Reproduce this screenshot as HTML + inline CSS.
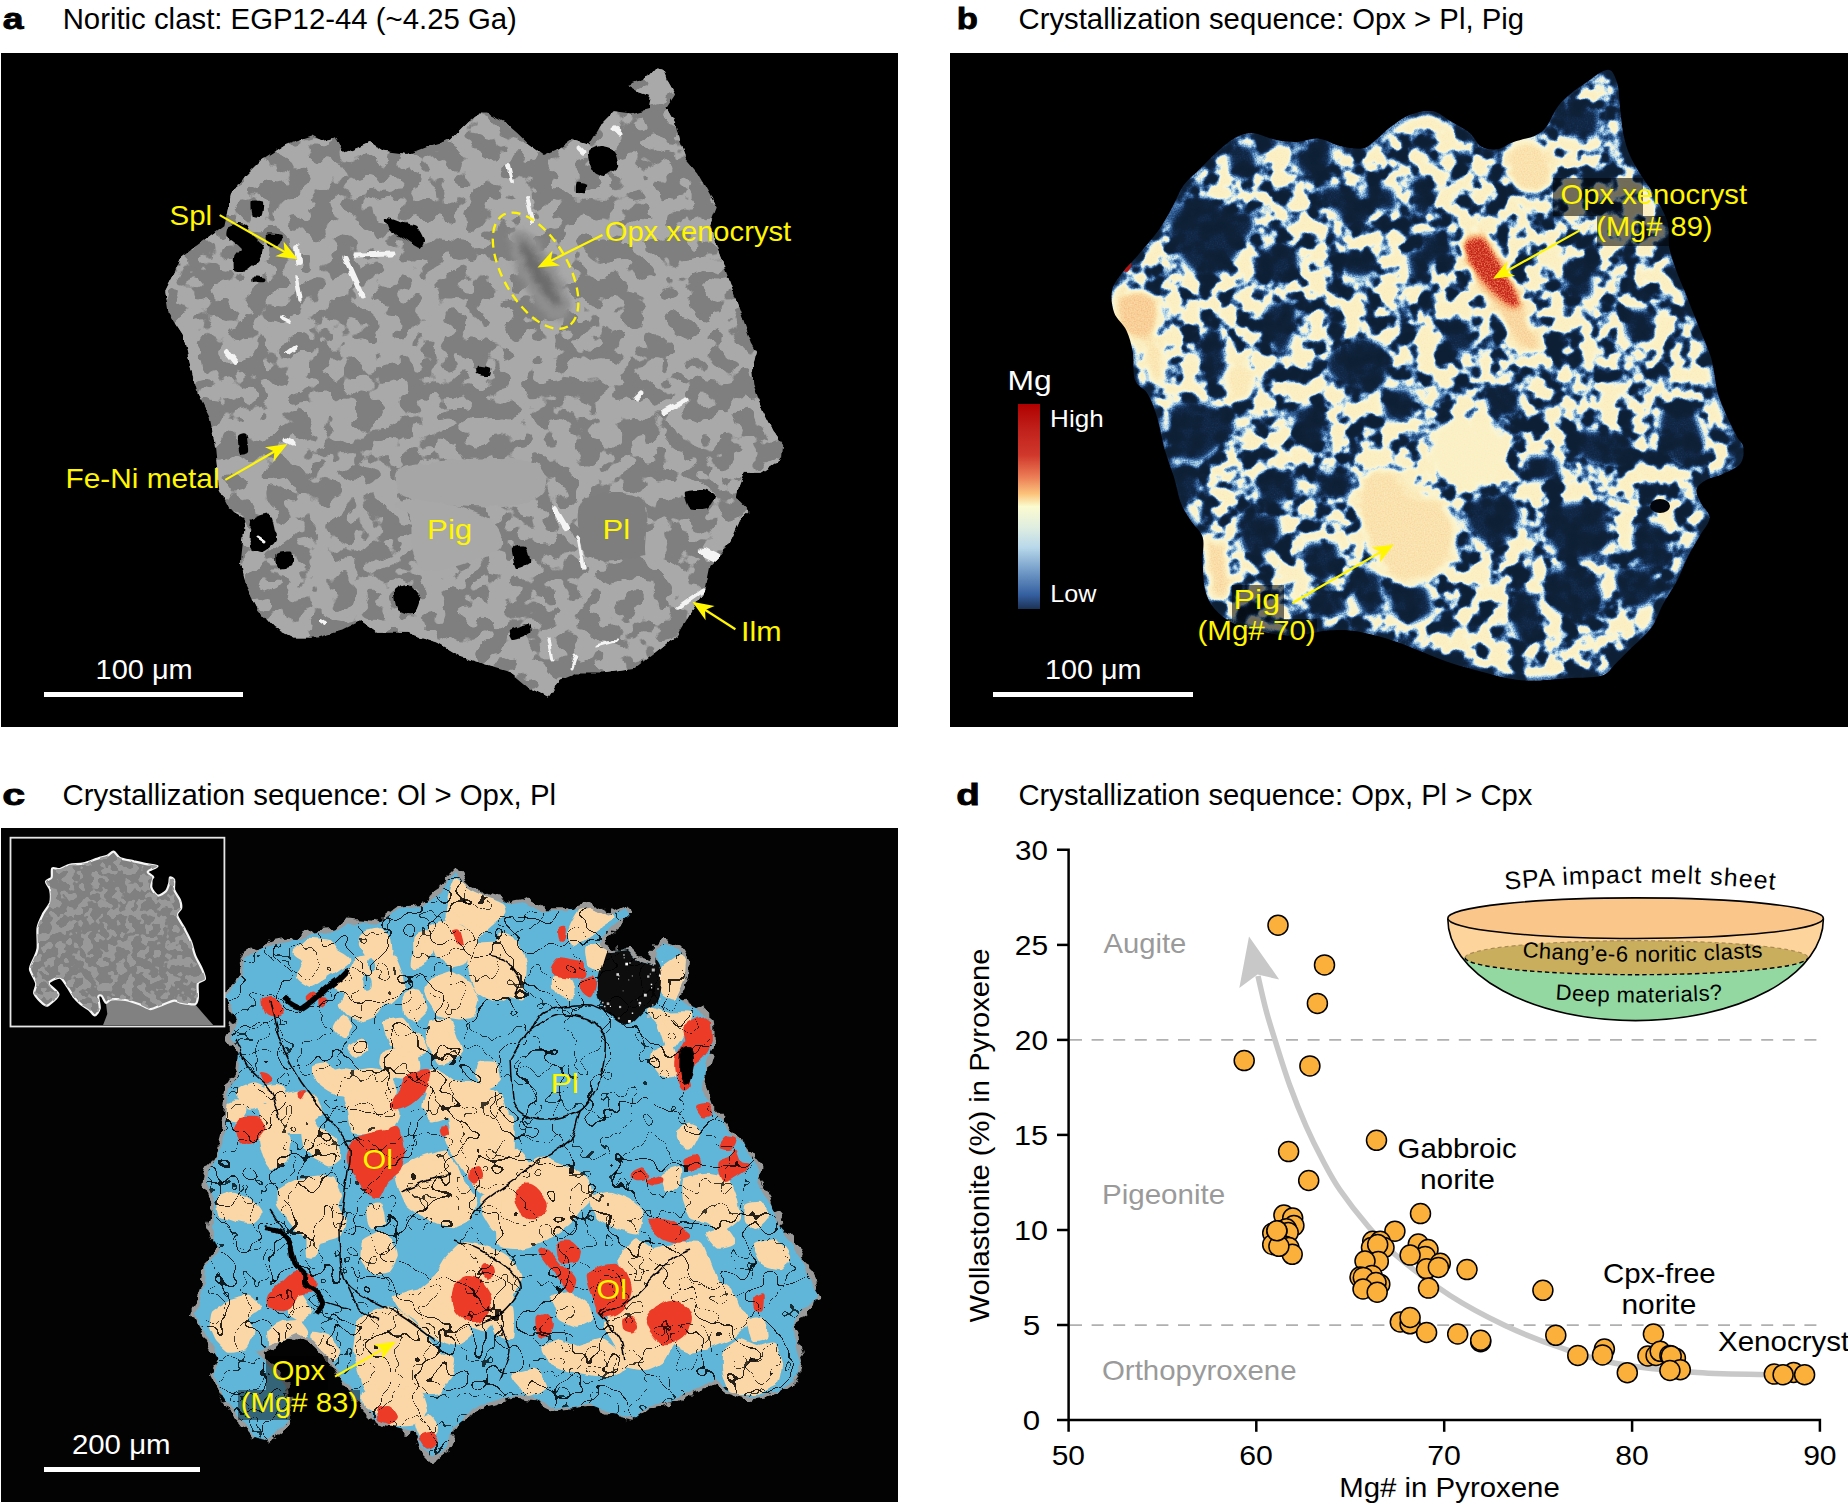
<!DOCTYPE html><html><head><meta charset="utf-8"><title>Figure</title><style>html,body{margin:0;padding:0;background:#fff;overflow:hidden}svg{display:block}text{font-family:"Liberation Sans",sans-serif}</style></head><body>
<svg width="1848" height="1507" viewBox="0 0 1848 1507">
<defs>
<filter id="fA" x="0" y="0" width="100%" height="100%" color-interpolation-filters="sRGB">
 <feTurbulence type="fractalNoise" baseFrequency="0.045 0.05" numOctaves="2" seed="7" result="n"/>
 <feColorMatrix in="n" type="matrix" values="0 0 0 0 0.663  0 0 0 0 0.663  0 0 0 0 0.663  40 0 0 0 -19.2"/>
</filter>
<filter id="fIns" x="0" y="0" width="100%" height="100%" color-interpolation-filters="sRGB">
 <feTurbulence type="fractalNoise" baseFrequency="0.12" numOctaves="2" seed="11" result="n"/>
 <feColorMatrix in="n" type="matrix" values="0 0 0 0 0.6  0 0 0 0 0.6  0 0 0 0 0.6  30 0 0 0 -15.5"/>
</filter>
<filter id="fBnoise" x="0" y="0" width="100%" height="100%" color-interpolation-filters="sRGB">
 <feTurbulence type="fractalNoise" baseFrequency="0.055 0.06" numOctaves="4" seed="4" result="n"/>
 <feColorMatrix in="n" type="matrix" values="3.4 0 0 0 -1.0  3.4 0 0 0 -1.0  3.4 0 0 0 -1.0  0 0 0 0 1" result="c"/>
 <feColorMatrix in="c" type="matrix" values="0.7 0 0 0 0  0.7 0 0 0 0  0.7 0 0 0 0  0 0 0 0 1" result="d"/>
 <feGaussianBlur in="d" stdDeviation="1.3"/>
</filter>
<filter id="fBmap" x="0" y="0" width="100%" height="100%" color-interpolation-filters="sRGB">
 <feTurbulence type="fractalNoise" baseFrequency="0.7" numOctaves="1" seed="8" result="g"/>
 <feColorMatrix in="g" type="matrix" values="1 0 0 0 0  1 0 0 0 0  1 0 0 0 0  0 0 0 0 1" result="g1"/>
 <feComposite in="SourceGraphic" in2="g1" operator="arithmetic" k1="0" k2="1" k3="0.14" k4="-0.07" result="h"/>
 <feComponentTransfer in="h">
  <feFuncR type="table" tableValues="0.05 0.05 0.055 0.055 0.06 0.07 0.10 0.16 0.27 0.48 0.72 0.92 0.985 0.985 0.985 0.985 0.98 0.975 0.965 0.93 0.78"/>
  <feFuncG type="table" tableValues="0.125 0.125 0.13 0.13 0.14 0.16 0.22 0.32 0.46 0.66 0.85 0.95 0.96 0.95 0.94 0.915 0.87 0.80 0.70 0.50 0.15"/>
  <feFuncB type="table" tableValues="0.21 0.21 0.215 0.22 0.24 0.28 0.38 0.52 0.68 0.82 0.92 0.90 0.82 0.79 0.77 0.72 0.66 0.58 0.48 0.34 0.10"/>
  <feFuncA type="linear" slope="0" intercept="1"/>
 </feComponentTransfer>
</filter>
<filter id="fCrack" x="0" y="0" width="100%" height="100%" color-interpolation-filters="sRGB">
 <feTurbulence type="fractalNoise" baseFrequency="0.018" numOctaves="3" seed="21" result="n"/>
 <feComponentTransfer in="n">
  <feFuncR type="linear" slope="0" intercept="0"/><feFuncG type="linear" slope="0" intercept="0"/><feFuncB type="linear" slope="0" intercept="0"/>
  <feFuncA type="discrete" tableValues="0 0 0 0 0 0 0 0 0 0 0 0 0 0 0 0 0 0 0 0 0 0 0 0 0 0 0 0 0 0 0 0 0 0 0 0 0 0 0 0 0 0 0 0 1 0 0 0 0 0 0 0 0 0 0 0 0 0 0 0 0 0 0 0 0 0 0 0 0 0 0 0 0 0 0 0 0 0 0 0 0 0 0 0 0 0 0 0 0 0"/>
 </feComponentTransfer>
</filter>
<filter id="fCrack2" x="0" y="0" width="100%" height="100%" color-interpolation-filters="sRGB">
 <feTurbulence type="fractalNoise" baseFrequency="0.028" numOctaves="3" seed="33" result="n"/>
 <feComponentTransfer in="n">
  <feFuncR type="linear" slope="0" intercept="0"/><feFuncG type="linear" slope="0" intercept="0"/><feFuncB type="linear" slope="0" intercept="0"/>
  <feFuncA type="discrete" tableValues="0 0 0 0 0 0 0 0 0 0 0 0 0 0 0 0 0 0 0 0 0 0 0 0 0 0 0 0 0 0 0 0 0 0 0 0 1 0 0 0 0 0 0 0 0 0 0 0 0 0 0 0 0 0 0 0 0 0 0 0 0 0 0 0 0 0 0 0 0 0 0 0 0 0 0 0 0 0 0 0"/>
 </feComponentTransfer>
</filter>
<filter id="blur3" x="-20%" y="-20%" width="140%" height="140%"><feGaussianBlur stdDeviation="3"/></filter>
<filter id="blur4" x="-5%" y="-5%" width="110%" height="110%"><feGaussianBlur stdDeviation="3.5"/></filter>
<filter id="rough4" x="-2%" y="-2%" width="104%" height="104%">
 <feTurbulence type="fractalNoise" baseFrequency="0.06" numOctaves="2" seed="2" result="t"/>
 <feDisplacementMap in="SourceGraphic" in2="t" scale="7" xChannelSelector="R" yChannelSelector="G"/>
</filter>
<filter id="roughA" x="-2%" y="-2%" width="104%" height="104%">
 <feTurbulence type="fractalNoise" baseFrequency="0.09" numOctaves="2" seed="5" result="t"/>
 <feDisplacementMap in="SourceGraphic" in2="t" scale="6" xChannelSelector="R" yChannelSelector="G"/>
</filter>
<filter id="rough8" x="-2%" y="-2%" width="104%" height="104%">
 <feTurbulence type="fractalNoise" baseFrequency="0.09" numOctaves="2" seed="9" result="t"/>
 <feDisplacementMap in="SourceGraphic" in2="t" scale="14" xChannelSelector="R" yChannelSelector="G"/>
</filter>
<linearGradient id="gBar" x1="0" y1="0" x2="0" y2="1">
 <stop offset="0" stop-color="#b00000"/><stop offset="0.12" stop-color="#c0201a"/><stop offset="0.25" stop-color="#d0382c"/>
 <stop offset="0.36" stop-color="#ec8058"/><stop offset="0.44" stop-color="#fcc47c"/><stop offset="0.5" stop-color="#fbfbcf"/>
 <stop offset="0.6" stop-color="#e0eee0"/><stop offset="0.7" stop-color="#b8d8ea"/><stop offset="0.82" stop-color="#7099c6"/>
 <stop offset="0.93" stop-color="#3560a0"/><stop offset="1" stop-color="#1c3256"/>
</linearGradient>
</defs>
<rect width="1848" height="1507" fill="#fff"/>
<text x="2.88" y="29.0" font-size="29.00" fill="#000" font-weight="bold" textLength="20.79" lengthAdjust="spacingAndGlyphs" stroke="#000" stroke-width="0.8">a</text>
<text x="62.65" y="29.0" font-size="28.70" fill="#000" font-weight="normal" textLength="454.22" lengthAdjust="spacingAndGlyphs" >Noritic clast: EGP12-44 (~4.25 Ga)</text>
<text x="956.75" y="29.0" font-size="29.00" fill="#000" font-weight="bold" textLength="21.17" lengthAdjust="spacingAndGlyphs" stroke="#000" stroke-width="0.8">b</text>
<text x="1018.54" y="29.0" font-size="28.70" fill="#000" font-weight="normal" textLength="505.47" lengthAdjust="spacingAndGlyphs" >Crystallization sequence: Opx &gt; Pl, Pig</text>
<text x="2.35" y="805.0" font-size="29.00" fill="#000" font-weight="bold" textLength="22.93" lengthAdjust="spacingAndGlyphs" stroke="#000" stroke-width="0.8">c</text>
<text x="62.53" y="805.0" font-size="28.70" fill="#000" font-weight="normal" textLength="493.47" lengthAdjust="spacingAndGlyphs" >Crystallization sequence: Ol &gt; Opx, Pl</text>
<text x="956.26" y="805.0" font-size="29.00" fill="#000" font-weight="bold" textLength="23.59" lengthAdjust="spacingAndGlyphs" stroke="#000" stroke-width="0.8">d</text>
<text x="1018.54" y="805.0" font-size="28.70" fill="#000" font-weight="normal" textLength="513.80" lengthAdjust="spacingAndGlyphs" >Crystallization sequence: Opx, Pl &gt; Cpx</text>
<g id="pa"><rect x="1" y="53" width="897" height="674" fill="#000"/>
<clipPath id="clipA"><polygon points="193.8,380.0 182.8,334.6 168.6,312.7 165.3,290.8 174.1,273.3 180.6,258.0 200.4,242.7 224.4,225.2 231.0,194.5 246.3,174.8 261.7,159.5 285.7,144.1 312.0,135.4 323.0,140.9 336.0,137.6 342.7,152.9 368.9,142.0 382.0,150.7 408.3,154.0 428.0,146.3 450.0,139.8 469.7,120.0 478.4,113.5 487.0,113.5 504.7,122.2 517.5,133.2 528.5,144.1 543.8,155.1 559.0,148.5 572.2,138.7 589.8,144.1 602.9,122.2 613.8,111.3 631.4,113.5 648.9,109.1 651.0,96.0 638.0,91.6 627.0,85.0 648.9,76.3 655.4,68.6 663.0,69.7 666.4,78.5 675.0,93.8 666.4,107.0 675.0,122.2 679.5,142.0 686.0,159.5 697.0,172.6 705.8,187.9 716.7,207.6 710.0,225.0 716.7,247.0 729.9,282.0 740.8,312.7 751.8,343.4 757.0,352.0 752.0,370.0 753.3,384.3 762.8,410.6 772.4,429.7 783.2,444.0 782.0,458.4 760.5,472.7 743.7,472.7 738.9,484.7 736.6,499.0 748.5,511.0 738.9,520.5 731.8,537.3 722.2,554.0 710.3,566.0 705.5,589.8 691.2,611.3 676.8,635.2 652.9,654.3 633.8,668.7 602.7,673.5 576.5,673.5 559.7,680.6 547.8,697.4 528.7,688.0 508.4,671.0 484.5,663.9 460.6,656.7 436.7,642.4 408.0,632.8 377.0,632.8 360.3,620.9 341.2,630.5 317.3,637.6 293.4,637.6 274.3,628.1 257.5,608.9 245.6,585.0 240.8,561.2 245.6,518.1 228.9,508.6 219.3,489.5 216.9,465.6 214.5,441.7 209.7,417.8 197.8,393.9"/></clipPath>
<g filter="url(#roughA)"><g clip-path="url(#clipA)">
<rect x="150" y="60" width="660" height="650" fill="#7f7f7f"/>
<rect x="150" y="60" width="660" height="650" fill="#a9a9a9" filter="url(#fA)"/>
<path d="M396.0 504.0 C398.8 500.8 415.0 498.2 427.0 499.0 C439.0 499.8 456.8 505.0 468.0 509.0 C479.2 513.0 488.5 516.7 494.0 523.0 C499.5 529.3 504.6 540.7 501.0 547.0 C497.4 553.3 481.3 557.5 472.6 561.0 C463.9 564.5 456.7 566.4 448.7 568.0 C440.7 569.6 430.8 573.4 424.8 570.7 C418.8 568.0 415.3 560.4 412.8 551.6 C410.3 542.8 412.8 525.9 410.0 518.0 C407.2 510.1 393.2 507.2 396.0 504.0Z" fill="#a8a8a8"/>
<path d="M398.0 470.0 C404.7 464.7 423.0 464.0 440.0 462.0 C457.0 460.0 483.3 457.3 500.0 458.0 C516.7 458.7 532.7 460.7 540.0 466.0 C547.3 471.3 547.3 483.7 544.0 490.0 C540.7 496.3 532.3 501.3 520.0 504.0 C507.7 506.7 486.7 506.7 470.0 506.0 C453.3 505.3 431.7 502.0 420.0 500.0 C408.3 498.0 403.7 499.0 400.0 494.0 C396.3 489.0 391.3 475.3 398.0 470.0Z" fill="#a6a6a6"/>
<path d="M583.0 500.0 C592.7 492.2 629.7 490.0 640.0 498.0 C650.3 506.0 645.0 538.3 645.0 548.0 C645.0 557.7 647.5 554.0 640.0 556.0 C632.5 558.0 609.7 561.8 600.0 560.0 C590.3 558.2 584.8 555.0 582.0 545.0 C579.2 535.0 573.3 507.8 583.0 500.0Z" fill="#7e7e7e"/>
<g filter="url(#blur3)"><path d="M512.0 232.0 C515.0 227.7 524.7 230.0 532.0 236.0 C539.3 242.0 549.7 257.3 556.0 268.0 C562.3 278.7 568.3 291.7 570.0 300.0 C571.7 308.3 569.7 315.3 566.0 318.0 C562.3 320.7 554.3 320.3 548.0 316.0 C541.7 311.7 533.7 301.0 528.0 292.0 C522.3 283.0 516.7 272.0 514.0 262.0 C511.3 252.0 509.0 236.3 512.0 232.0Z" fill="#8f8f8f"/><path d="M520.0 240.0 C520.7 236.7 525.3 240.0 530.0 246.0 C534.7 252.0 543.0 267.0 548.0 276.0 C553.0 285.0 558.7 295.0 560.0 300.0 C561.3 305.0 559.3 307.7 556.0 306.0 C552.7 304.3 545.0 296.7 540.0 290.0 C535.0 283.3 529.3 274.3 526.0 266.0 C522.7 257.7 519.3 243.3 520.0 240.0Z" fill="#6c6c6c"/></g>
<path d="M251.8 201.1 C252.8 199.8 261.8 200.7 262.8 202.2 C263.8 203.7 262.7 215.1 261.7 216.4 C260.7 217.7 253.9 216.8 252.9 215.3 C251.9 213.8 250.8 202.4 251.8 201.1Z" fill="#050505"/>
<path d="M237.6 223.0 C239.3 223.0 244.8 223.9 246.3 225.2 C247.8 226.5 251.2 233.9 252.9 236.1 C254.7 238.3 263.1 244.6 263.8 247.0 C264.5 249.4 261.2 257.8 259.5 260.2 C257.8 262.6 248.8 270.0 246.3 271.1 C243.8 272.2 235.5 272.6 234.3 271.1 C233.1 269.6 233.8 258.2 234.3 255.8 C234.9 253.4 240.6 249.0 239.8 247.0 C239.0 245.0 227.7 238.3 226.6 236.1 C225.5 233.9 227.7 226.5 228.8 225.2 C229.9 223.9 235.8 223.0 237.6 223.0Z" fill="#050505"/>
<path d="M266.0 233.9 C267.4 232.7 281.2 233.9 282.5 235.0 C283.8 236.1 280.6 243.7 279.2 244.9 C277.8 246.1 269.5 248.1 268.2 247.0 C266.9 245.9 264.6 235.1 266.0 233.9Z" fill="#050505"/>
<path d="M252.9 276.6 C254.0 276.2 262.8 277.1 263.8 277.7 C264.9 278.2 264.4 281.7 263.4 282.1 C262.3 282.5 254.4 282.2 253.3 281.6 C252.2 281.1 251.8 277.0 252.9 276.6Z" fill="#050505"/>
<path d="M386.0 218.0 C387.0 217.2 397.0 221.2 400.0 222.0 C403.0 222.8 413.6 224.2 416.0 226.0 C418.4 227.8 423.6 237.8 424.0 240.0 C424.4 242.2 422.0 248.2 420.0 248.0 C418.0 247.8 407.0 239.8 404.0 238.0 C401.0 236.2 391.8 232.0 390.0 230.0 C388.2 228.0 385.0 218.8 386.0 218.0Z" fill="#050505"/>
<path d="M588.0 152.0 C588.8 149.6 597.4 146.2 600.0 146.0 C602.6 145.8 612.2 148.0 614.0 150.0 C615.8 152.0 619.0 163.4 618.0 166.0 C617.0 168.6 606.6 175.6 604.0 176.0 C601.4 176.4 593.6 172.4 592.0 170.0 C590.4 167.6 587.2 154.4 588.0 152.0Z" fill="#050505"/>
<path d="M577.0 182.0 C578.0 181.2 585.3 182.8 586.0 184.0 C586.7 185.2 585.0 193.2 584.0 194.0 C583.0 194.8 576.7 193.2 576.0 192.0 C575.3 190.8 576.0 182.8 577.0 182.0Z" fill="#050505"/>
<path d="M252.0 520.0 C254.0 516.8 267.6 512.0 270.0 514.0 C272.4 516.0 276.8 536.2 276.0 540.0 C275.2 543.8 264.6 551.4 262.0 552.0 C259.4 552.6 251.0 549.2 250.0 546.0 C249.0 542.8 250.0 523.2 252.0 520.0Z" fill="#050505"/>
<path d="M277.0 554.0 C278.4 552.4 290.5 550.8 292.0 552.0 C293.5 553.2 293.4 564.4 292.0 566.0 C290.6 567.6 279.5 569.2 278.0 568.0 C276.5 566.8 275.6 555.6 277.0 554.0Z" fill="#050505"/>
<path d="M394.0 590.0 C395.0 587.4 405.4 583.2 408.0 584.0 C410.6 584.8 419.4 595.0 420.0 598.0 C420.6 601.0 416.2 612.8 414.0 614.0 C411.8 615.2 400.0 612.4 398.0 610.0 C396.0 607.6 393.0 592.6 394.0 590.0Z" fill="#050505"/>
<path d="M512.0 548.0 C513.0 545.8 524.2 544.6 526.0 546.0 C527.8 547.4 531.0 559.8 530.0 562.0 C529.0 564.2 517.8 569.4 516.0 568.0 C514.2 566.6 511.0 550.2 512.0 548.0Z" fill="#050505"/>
<path d="M685.0 492.0 C686.4 490.2 700.9 489.6 704.0 490.0 C707.1 490.4 715.6 494.2 716.0 496.0 C716.4 497.8 710.6 506.8 708.0 508.0 C705.4 509.2 692.3 509.6 690.0 508.0 C687.7 506.4 683.6 493.8 685.0 492.0Z" fill="#050505"/>
<path d="M238.0 436.0 C238.6 434.0 245.0 432.4 246.0 434.0 C247.0 435.6 248.6 450.0 248.0 452.0 C247.4 454.0 241.0 455.6 240.0 454.0 C239.0 452.4 237.4 438.0 238.0 436.0Z" fill="#050505"/>
<path d="M478.0 366.0 C479.2 365.4 489.0 367.0 490.0 368.0 C491.0 369.0 489.2 375.4 488.0 376.0 C486.8 376.6 479.0 375.0 478.0 374.0 C477.0 373.0 476.8 366.6 478.0 366.0Z" fill="#050505"/>
<path d="M510.0 630.0 C511.4 628.4 526.0 623.6 528.0 624.0 C530.0 624.4 531.4 632.4 530.0 634.0 C528.6 635.6 516.0 640.4 514.0 640.0 C512.0 639.6 508.6 631.6 510.0 630.0Z" fill="#050505"/>
<line x1="345.0" y1="258.0" x2="362.0" y2="296.0" stroke="#f4f4f4" stroke-width="5.0" stroke-linecap="round"/>
<line x1="356.0" y1="255.0" x2="392.0" y2="254.0" stroke="#f4f4f4" stroke-width="5.0" stroke-linecap="round"/>
<line x1="297.0" y1="246.0" x2="299.0" y2="262.0" stroke="#f4f4f4" stroke-width="6.0" stroke-linecap="round"/>
<line x1="296.0" y1="276.0" x2="300.0" y2="300.0" stroke="#f4f4f4" stroke-width="3.5" stroke-linecap="round"/>
<line x1="282.0" y1="318.0" x2="290.0" y2="322.0" stroke="#f4f4f4" stroke-width="4.0" stroke-linecap="round"/>
<line x1="228.0" y1="352.0" x2="236.0" y2="362.0" stroke="#f4f4f4" stroke-width="6.0" stroke-linecap="round"/>
<line x1="288.0" y1="352.0" x2="296.0" y2="346.0" stroke="#f4f4f4" stroke-width="4.0" stroke-linecap="round"/>
<line x1="508.0" y1="165.0" x2="512.0" y2="182.0" stroke="#f4f4f4" stroke-width="4.0" stroke-linecap="round"/>
<line x1="526.0" y1="196.0" x2="532.0" y2="222.0" stroke="#f4f4f4" stroke-width="4.0" stroke-linecap="round"/>
<line x1="664.0" y1="412.0" x2="686.0" y2="400.0" stroke="#f4f4f4" stroke-width="5.0" stroke-linecap="round"/>
<line x1="636.0" y1="398.0" x2="642.0" y2="392.0" stroke="#f4f4f4" stroke-width="5.0" stroke-linecap="round"/>
<line x1="554.0" y1="508.0" x2="566.0" y2="528.0" stroke="#f4f4f4" stroke-width="6.0" stroke-linecap="round"/>
<line x1="578.0" y1="536.0" x2="584.0" y2="568.0" stroke="#f4f4f4" stroke-width="3.5" stroke-linecap="round"/>
<line x1="704.0" y1="552.0" x2="716.0" y2="558.0" stroke="#f4f4f4" stroke-width="8.0" stroke-linecap="round"/>
<line x1="678.0" y1="608.0" x2="704.0" y2="590.0" stroke="#f4f4f4" stroke-width="3.5" stroke-linecap="round"/>
<line x1="596.0" y1="646.0" x2="618.0" y2="640.0" stroke="#f4f4f4" stroke-width="3.0" stroke-linecap="round"/>
<line x1="548.0" y1="640.0" x2="552.0" y2="660.0" stroke="#f4f4f4" stroke-width="3.0" stroke-linecap="round"/>
<line x1="572.0" y1="668.0" x2="576.0" y2="656.0" stroke="#f4f4f4" stroke-width="3.0" stroke-linecap="round"/>
<line x1="286.0" y1="440.0" x2="292.0" y2="443.0" stroke="#f4f4f4" stroke-width="5.0" stroke-linecap="round"/>
<line x1="202.0" y1="432.0" x2="204.0" y2="438.0" stroke="#f4f4f4" stroke-width="6.0" stroke-linecap="round"/>
<line x1="614.0" y1="128.0" x2="620.0" y2="134.0" stroke="#f4f4f4" stroke-width="5.0" stroke-linecap="round"/>
<line x1="579.0" y1="148.0" x2="583.0" y2="152.0" stroke="#f4f4f4" stroke-width="5.0" stroke-linecap="round"/>
<line x1="258.0" y1="538.0" x2="264.0" y2="542.0" stroke="#f4f4f4" stroke-width="3.0" stroke-linecap="round"/>
<line x1="320.0" y1="620.0" x2="326.0" y2="624.0" stroke="#f4f4f4" stroke-width="4.0" stroke-linecap="round"/>
<line x1="360.0" y1="632.0" x2="366.0" y2="636.0" stroke="#f4f4f4" stroke-width="3.0" stroke-linecap="round"/>
</g></g>
<ellipse cx="535.6" cy="270.7" rx="64.5" ry="32.5" transform="rotate(60 535.6 270.7)" fill="none" stroke="#fff600" stroke-width="2.3" stroke-dasharray="9 6"/>
<text x="169.47" y="224.6" font-size="28.00" fill="#fff600" font-weight="normal" textLength="42.66" lengthAdjust="spacingAndGlyphs" >Spl</text>
<line x1="219.7" y1="215.1" x2="285.5" y2="252.4" stroke="#fff600" stroke-width="2.2"/><polygon points="297.7,259.3 275.3,256.3 284.6,251.9 283.6,241.6" fill="#fff600"/>
<text x="604.69" y="241.0" font-size="28.00" fill="#fff600" font-weight="normal" textLength="186.49" lengthAdjust="spacingAndGlyphs" >Opx xenocryst</text>
<line x1="602.5" y1="235.0" x2="550.0" y2="261.2" stroke="#fff600" stroke-width="2.2"/><polygon points="537.5,267.5 552.5,250.6 550.9,260.8 560.0,265.6" fill="#fff600"/>
<text x="65.62" y="487.5" font-size="28.00" fill="#fff600" font-weight="normal" textLength="153.90" lengthAdjust="spacingAndGlyphs" >Fe-Ni metal</text>
<line x1="225.3" y1="479.9" x2="275.3" y2="451.0" stroke="#fff600" stroke-width="2.2"/><polygon points="287.4,444.0 273.4,461.8 274.4,451.5 265.0,447.2" fill="#fff600"/>
<text x="427.10" y="538.5" font-size="28.00" fill="#fff600" font-weight="normal" textLength="45.14" lengthAdjust="spacingAndGlyphs" >Pig</text>
<text x="602.51" y="538.5" font-size="28.00" fill="#fff600" font-weight="normal" textLength="27.64" lengthAdjust="spacingAndGlyphs" >Pl</text>
<text x="740.96" y="641.2" font-size="28.00" fill="#fff600" font-weight="normal" textLength="40.56" lengthAdjust="spacingAndGlyphs" >Ilm</text>
<line x1="735.4" y1="629.3" x2="704.2" y2="609.3" stroke="#fff600" stroke-width="2.2"/><polygon points="692.4,601.8 714.6,606.0 705.0,609.9 705.6,620.2" fill="#fff600"/>
<rect x="44" y="692" width="199" height="5" fill="#fff"/>
<text x="95.53" y="678.7" font-size="27.50" fill="#fff" font-weight="normal" textLength="97.23" lengthAdjust="spacingAndGlyphs" >100 μm</text></g>
<g id="pb"><rect x="950" y="53" width="898" height="674" fill="#000"/>
<clipPath id="clipB"><path d="M1135.0 380.0 C1132.5 373.0 1134.2 360.4 1132.8 352.1 C1131.3 343.8 1129.4 336.8 1126.3 330.2 C1123.2 323.6 1116.6 319.3 1114.2 312.7 C1111.8 306.1 1110.7 297.4 1112.0 290.8 C1113.3 284.2 1117.3 279.5 1121.9 273.3 C1126.5 267.1 1133.2 260.9 1139.4 253.6 C1145.6 246.3 1153.6 237.2 1159.1 229.5 C1164.6 221.8 1168.2 214.9 1172.2 207.6 C1176.2 200.3 1178.5 192.3 1183.2 185.7 C1188.0 179.1 1195.2 173.7 1200.7 168.2 C1206.2 162.7 1210.2 158.0 1216.0 152.9 C1221.8 147.8 1229.5 140.9 1235.7 137.6 C1241.9 134.3 1246.7 132.8 1253.3 133.2 C1259.9 133.6 1267.9 138.3 1275.2 139.8 C1282.5 141.3 1289.7 142.2 1297.0 142.0 C1304.3 141.8 1311.6 138.0 1318.9 138.7 C1326.2 139.4 1333.5 144.7 1340.8 146.3 C1348.1 147.9 1356.8 149.6 1362.7 148.5 C1368.6 147.4 1371.2 143.5 1375.9 139.8 C1380.7 136.2 1385.4 130.8 1391.2 126.6 C1397.0 122.4 1404.0 117.1 1410.9 114.6 C1417.8 112.0 1426.2 110.2 1432.8 111.3 C1439.4 112.4 1444.1 117.3 1450.3 121.0 C1456.5 124.7 1464.8 129.0 1469.9 133.2 C1475.0 137.4 1476.4 143.6 1480.8 146.3 C1485.2 149.0 1490.7 150.3 1496.2 149.6 C1501.7 148.9 1507.1 144.4 1513.7 142.0 C1520.3 139.6 1530.1 138.0 1535.6 135.4 C1541.1 132.8 1542.8 131.3 1546.5 126.6 C1550.2 121.8 1553.5 112.4 1557.5 106.9 C1561.5 101.4 1565.9 97.8 1570.6 93.8 C1575.3 89.8 1580.8 86.4 1585.9 82.8 C1591.0 79.2 1597.1 73.9 1601.3 71.9 C1605.5 69.9 1608.4 68.6 1611.1 70.8 C1613.8 73.0 1616.2 79.0 1617.7 85.0 C1619.2 91.0 1619.0 98.9 1619.9 106.9 C1620.8 114.9 1621.6 125.2 1623.2 133.2 C1624.8 141.2 1626.8 148.2 1629.7 155.1 C1632.6 162.0 1636.7 168.2 1640.7 174.8 C1644.7 181.4 1649.4 186.8 1653.8 194.5 C1658.2 202.2 1664.4 212.1 1666.9 220.8 C1669.5 229.6 1667.6 239.0 1669.1 247.0 C1670.6 255.0 1673.1 261.6 1675.7 268.9 C1678.3 276.2 1681.6 283.5 1684.5 290.8 C1687.4 298.1 1690.3 305.4 1693.2 312.7 C1696.1 320.0 1699.1 327.3 1702.0 334.6 C1704.9 341.9 1708.7 350.3 1710.7 356.5 C1712.7 362.7 1712.8 365.8 1714.0 372.0 C1715.2 378.2 1715.7 386.3 1718.0 393.9 C1720.3 401.5 1724.4 410.6 1727.6 417.8 C1730.8 425.0 1734.5 432.1 1737.1 436.9 C1739.7 441.7 1742.5 442.1 1743.1 446.5 C1743.7 450.9 1744.1 458.6 1740.7 463.2 C1737.3 467.8 1728.6 471.1 1722.8 473.9 C1717.0 476.7 1710.5 477.3 1706.1 479.9 C1701.7 482.5 1697.3 485.5 1696.5 489.5 C1695.7 493.5 1699.1 499.0 1701.3 503.8 C1703.5 508.6 1710.0 512.5 1709.6 518.1 C1709.2 523.7 1702.7 530.5 1698.9 537.3 C1695.1 544.1 1690.5 551.6 1686.9 558.8 C1683.3 566.0 1681.4 572.7 1677.4 580.3 C1673.4 587.9 1667.4 596.2 1663.0 604.2 C1658.6 612.2 1656.7 620.4 1651.1 628.0 C1645.5 635.6 1635.6 643.6 1629.6 649.6 C1623.6 655.6 1620.1 659.5 1615.3 663.9 C1610.5 668.3 1608.9 673.4 1600.9 675.8 C1592.9 678.2 1579.0 677.4 1567.5 678.2 C1556.0 679.0 1541.6 680.6 1531.6 680.6 C1521.6 680.6 1516.5 679.8 1507.7 678.2 C1498.9 676.6 1489.2 673.8 1479.0 671.0 C1468.8 668.2 1455.9 664.7 1446.5 661.5 C1437.1 658.3 1430.6 655.2 1422.6 652.0 C1414.6 648.8 1406.7 645.2 1398.7 642.4 C1390.7 639.6 1382.8 637.2 1374.8 635.2 C1366.8 633.2 1358.9 631.3 1350.9 630.5 C1342.9 629.7 1333.4 630.1 1327.0 630.5 C1320.6 630.9 1319.5 632.0 1312.7 632.8 C1305.9 633.6 1295.2 635.5 1286.4 635.2 C1277.6 634.9 1268.8 633.0 1260.0 631.0 C1251.2 629.0 1241.3 627.0 1233.8 623.3 C1226.2 619.6 1219.5 614.5 1214.7 608.9 C1209.9 603.3 1207.1 597.8 1205.1 589.8 C1203.1 581.8 1203.1 570.0 1202.7 561.2 C1202.3 552.5 1204.7 544.1 1202.7 537.3 C1200.7 530.5 1194.4 526.1 1190.8 520.5 C1187.2 514.9 1184.0 511.0 1181.2 503.8 C1178.4 496.6 1176.9 486.6 1174.1 477.5 C1171.3 468.4 1167.3 458.8 1164.5 448.9 C1161.7 438.9 1160.1 427.0 1157.3 417.8 C1154.5 408.6 1151.5 400.2 1147.8 393.9 C1144.1 387.6 1137.5 387.0 1135.0 380.0Z"/></clipPath>
<g clip-path="url(#clipB)">
<g filter="url(#fBmap)">
<rect x="1100" y="60" width="660" height="640" fill="#808080" filter="url(#fBnoise)"/>
<g filter="url(#blur4)">
<path d="M1135.0 380.0 C1132.5 373.0 1134.2 360.4 1132.8 352.1 C1131.3 343.8 1129.4 336.8 1126.3 330.2 C1123.2 323.6 1116.6 319.3 1114.2 312.7 C1111.8 306.1 1110.7 297.4 1112.0 290.8 C1113.3 284.2 1117.3 279.5 1121.9 273.3 C1126.5 267.1 1133.2 260.9 1139.4 253.6 C1145.6 246.3 1153.6 237.2 1159.1 229.5 C1164.6 221.8 1168.2 214.9 1172.2 207.6 C1176.2 200.3 1178.5 192.3 1183.2 185.7 C1188.0 179.1 1195.2 173.7 1200.7 168.2 C1206.2 162.7 1210.2 158.0 1216.0 152.9 C1221.8 147.8 1229.5 140.9 1235.7 137.6 C1241.9 134.3 1246.7 132.8 1253.3 133.2 C1259.9 133.6 1267.9 138.3 1275.2 139.8 C1282.5 141.3 1289.7 142.2 1297.0 142.0 C1304.3 141.8 1311.6 138.0 1318.9 138.7 C1326.2 139.4 1333.5 144.7 1340.8 146.3 C1348.1 147.9 1356.8 149.6 1362.7 148.5 C1368.6 147.4 1371.2 143.5 1375.9 139.8 C1380.7 136.2 1385.4 130.8 1391.2 126.6 C1397.0 122.4 1404.0 117.1 1410.9 114.6 C1417.8 112.0 1426.2 110.2 1432.8 111.3 C1439.4 112.4 1444.1 117.3 1450.3 121.0 C1456.5 124.7 1464.8 129.0 1469.9 133.2 C1475.0 137.4 1476.4 143.6 1480.8 146.3 C1485.2 149.0 1490.7 150.3 1496.2 149.6 C1501.7 148.9 1507.1 144.4 1513.7 142.0 C1520.3 139.6 1530.1 138.0 1535.6 135.4 C1541.1 132.8 1542.8 131.3 1546.5 126.6 C1550.2 121.8 1553.5 112.4 1557.5 106.9 C1561.5 101.4 1565.9 97.8 1570.6 93.8 C1575.3 89.8 1580.8 86.4 1585.9 82.8 C1591.0 79.2 1597.1 73.9 1601.3 71.9 C1605.5 69.9 1608.4 68.6 1611.1 70.8 C1613.8 73.0 1616.2 79.0 1617.7 85.0 C1619.2 91.0 1619.0 98.9 1619.9 106.9 C1620.8 114.9 1621.6 125.2 1623.2 133.2 C1624.8 141.2 1626.8 148.2 1629.7 155.1 C1632.6 162.0 1636.7 168.2 1640.7 174.8 C1644.7 181.4 1649.4 186.8 1653.8 194.5 C1658.2 202.2 1664.4 212.1 1666.9 220.8 C1669.5 229.6 1667.6 239.0 1669.1 247.0 C1670.6 255.0 1673.1 261.6 1675.7 268.9 C1678.3 276.2 1681.6 283.5 1684.5 290.8 C1687.4 298.1 1690.3 305.4 1693.2 312.7 C1696.1 320.0 1699.1 327.3 1702.0 334.6 C1704.9 341.9 1708.7 350.3 1710.7 356.5 C1712.7 362.7 1712.8 365.8 1714.0 372.0 C1715.2 378.2 1715.7 386.3 1718.0 393.9 C1720.3 401.5 1724.4 410.6 1727.6 417.8 C1730.8 425.0 1734.5 432.1 1737.1 436.9 C1739.7 441.7 1742.5 442.1 1743.1 446.5 C1743.7 450.9 1744.1 458.6 1740.7 463.2 C1737.3 467.8 1728.6 471.1 1722.8 473.9 C1717.0 476.7 1710.5 477.3 1706.1 479.9 C1701.7 482.5 1697.3 485.5 1696.5 489.5 C1695.7 493.5 1699.1 499.0 1701.3 503.8 C1703.5 508.6 1710.0 512.5 1709.6 518.1 C1709.2 523.7 1702.7 530.5 1698.9 537.3 C1695.1 544.1 1690.5 551.6 1686.9 558.8 C1683.3 566.0 1681.4 572.7 1677.4 580.3 C1673.4 587.9 1667.4 596.2 1663.0 604.2 C1658.6 612.2 1656.7 620.4 1651.1 628.0 C1645.5 635.6 1635.6 643.6 1629.6 649.6 C1623.6 655.6 1620.1 659.5 1615.3 663.9 C1610.5 668.3 1608.9 673.4 1600.9 675.8 C1592.9 678.2 1579.0 677.4 1567.5 678.2 C1556.0 679.0 1541.6 680.6 1531.6 680.6 C1521.6 680.6 1516.5 679.8 1507.7 678.2 C1498.9 676.6 1489.2 673.8 1479.0 671.0 C1468.8 668.2 1455.9 664.7 1446.5 661.5 C1437.1 658.3 1430.6 655.2 1422.6 652.0 C1414.6 648.8 1406.7 645.2 1398.7 642.4 C1390.7 639.6 1382.8 637.2 1374.8 635.2 C1366.8 633.2 1358.9 631.3 1350.9 630.5 C1342.9 629.7 1333.4 630.1 1327.0 630.5 C1320.6 630.9 1319.5 632.0 1312.7 632.8 C1305.9 633.6 1295.2 635.5 1286.4 635.2 C1277.6 634.9 1268.8 633.0 1260.0 631.0 C1251.2 629.0 1241.3 627.0 1233.8 623.3 C1226.2 619.6 1219.5 614.5 1214.7 608.9 C1209.9 603.3 1207.1 597.8 1205.1 589.8 C1203.1 581.8 1203.1 570.0 1202.7 561.2 C1202.3 552.5 1204.7 544.1 1202.7 537.3 C1200.7 530.5 1194.4 526.1 1190.8 520.5 C1187.2 514.9 1184.0 511.0 1181.2 503.8 C1178.4 496.6 1176.9 486.6 1174.1 477.5 C1171.3 468.4 1167.3 458.8 1164.5 448.9 C1161.7 438.9 1160.1 427.0 1157.3 417.8 C1154.5 408.6 1151.5 400.2 1147.8 393.9 C1144.1 387.6 1137.5 387.0 1135.0 380.0Z" fill="none" stroke="#0d0d0d" stroke-width="5" opacity="0.85"/>
<path d="M1170.4 221.0 C1171.3 218.0 1183.8 199.3 1186.5 197.7 C1189.2 196.1 1209.0 196.9 1211.6 197.7 C1214.2 198.5 1223.3 209.2 1225.9 210.2 C1228.5 211.3 1249.1 212.6 1251.0 213.8 C1252.9 215.0 1255.1 226.2 1254.6 228.2 C1254.1 230.1 1245.0 240.6 1243.8 242.5 C1242.6 244.4 1238.3 254.7 1236.7 256.8 C1235.0 259.0 1221.4 273.5 1218.7 274.7 C1216.1 275.9 1199.6 275.7 1197.2 274.7 C1194.9 273.8 1184.6 262.5 1182.9 260.4 C1181.2 258.2 1173.0 245.1 1172.2 242.5 C1171.3 239.9 1169.4 224.0 1170.4 221.0Z" fill="#0d0d0d" opacity="0.72"/>
<path d="M1261.1 252.3 C1262.6 250.6 1276.6 241.8 1279.0 241.5 C1281.4 241.3 1295.6 247.0 1296.9 248.7 C1298.2 250.4 1299.4 264.7 1298.7 266.6 C1298.0 268.5 1288.4 276.7 1286.1 277.4 C1283.9 278.1 1266.7 278.1 1264.6 277.4 C1262.6 276.7 1255.9 268.3 1255.7 266.6 C1255.4 265.0 1259.5 254.0 1261.1 252.3Z" fill="#0d0d0d" opacity="0.72"/>
<path d="M1307.7 147.2 C1309.7 146.2 1325.7 142.8 1327.4 143.7 C1329.1 144.5 1333.4 157.5 1332.8 159.8 C1332.2 162.0 1320.6 176.7 1318.5 177.7 C1316.3 178.6 1302.0 175.3 1300.5 174.1 C1299.1 172.9 1296.5 161.6 1297.0 159.8 C1297.4 158.0 1305.7 148.3 1307.7 147.2Z" fill="#0d0d0d" opacity="0.72"/>
<path d="M1321.5 186.1 C1323.7 185.0 1350.6 186.2 1353.8 187.9 C1356.9 189.5 1367.4 208.2 1368.1 211.2 C1368.8 214.1 1365.9 231.7 1364.5 232.6 C1363.1 233.6 1348.5 226.9 1346.6 225.5 C1344.7 224.1 1337.5 212.6 1335.8 211.2 C1334.2 209.7 1322.5 205.7 1321.5 204.0 C1320.6 202.3 1319.4 187.1 1321.5 186.1Z" fill="#0d0d0d" opacity="0.72"/>
<path d="M1270.3 303.5 C1272.5 302.3 1293.6 300.7 1295.3 301.7 C1297.1 302.8 1297.5 316.8 1297.1 319.7 C1296.8 322.5 1291.2 342.4 1290.0 344.7 C1288.8 347.1 1280.8 356.0 1279.2 355.5 C1277.7 355.0 1267.9 340.0 1266.7 337.6 C1265.5 335.2 1261.1 321.9 1261.3 319.7 C1261.6 317.4 1268.0 304.7 1270.3 303.5Z" fill="#0d0d0d" opacity="0.72"/>
<path d="M1329.9 352.3 C1332.1 350.1 1355.0 338.4 1358.6 337.9 C1362.2 337.5 1381.8 342.5 1383.7 345.1 C1385.6 347.7 1388.0 374.2 1387.2 377.4 C1386.5 380.5 1376.0 391.2 1372.9 391.7 C1369.8 392.2 1343.8 386.0 1340.7 384.5 C1337.6 383.1 1327.1 372.3 1326.3 370.2 C1325.6 368.0 1327.8 354.4 1329.9 352.3Z" fill="#0d0d0d" opacity="0.72"/>
<path d="M1204.4 333.3 C1205.6 331.9 1217.3 328.1 1218.7 329.8 C1220.1 331.4 1225.9 354.8 1225.9 358.4 C1225.9 362.0 1220.1 382.3 1218.7 383.5 C1217.3 384.7 1205.6 378.5 1204.4 376.3 C1203.2 374.2 1200.8 354.1 1200.8 351.3 C1200.8 348.4 1203.2 334.8 1204.4 333.3Z" fill="#0d0d0d" opacity="0.72"/>
<path d="M1407.8 252.7 C1409.0 250.8 1427.5 247.2 1428.9 249.1 C1430.4 251.0 1430.1 279.4 1428.9 281.3 C1427.8 283.2 1412.8 279.7 1411.4 277.7 C1410.0 275.8 1406.6 254.6 1407.8 252.7Z" fill="#0d0d0d" opacity="0.72"/>
<path d="M1364.5 185.1 C1366.2 184.4 1391.0 187.0 1393.1 188.7 C1395.3 190.4 1397.7 208.8 1396.7 210.2 C1395.7 211.6 1380.8 210.9 1378.8 210.2 C1376.8 209.5 1367.2 201.1 1366.2 199.4 C1365.3 197.8 1362.7 185.8 1364.5 185.1Z" fill="#0d0d0d" opacity="0.72"/>
<path d="M1228.9 147.5 C1230.3 145.6 1248.5 144.5 1250.4 145.7 C1252.3 146.9 1257.8 163.0 1257.6 165.4 C1257.4 167.8 1248.6 180.9 1246.9 181.5 C1245.1 182.1 1231.9 176.6 1230.7 174.4 C1229.5 172.1 1227.6 149.4 1228.9 147.5Z" fill="#0d0d0d" opacity="0.72"/>
<path d="M1340.8 256.3 C1342.1 254.9 1361.7 251.9 1364.1 252.7 C1366.4 253.6 1376.6 267.2 1376.6 268.9 C1376.6 270.5 1366.2 277.5 1364.1 277.8 C1361.9 278.2 1345.9 275.7 1344.3 274.2 C1342.8 272.8 1339.5 257.8 1340.8 256.3Z" fill="#0d0d0d" opacity="0.72"/>
<path d="M1411.6 181.3 C1412.5 178.7 1428.0 175.8 1429.1 177.7 C1430.3 179.6 1430.1 207.3 1429.1 210.0 C1428.2 212.6 1416.3 219.0 1415.2 217.1 C1414.0 215.2 1410.7 183.9 1411.6 181.3Z" fill="#0d0d0d" opacity="0.72"/>
<path d="M1421.6 233.1 C1423.1 231.3 1446.1 233.2 1448.0 235.1 C1449.9 237.0 1451.5 259.7 1450.1 261.5 C1448.6 263.3 1427.6 263.4 1425.7 261.5 C1423.8 259.6 1420.1 234.8 1421.6 233.1Z" fill="#0d0d0d" opacity="0.72"/>
<path d="M1557.7 106.8 C1560.1 105.0 1595.7 106.8 1598.3 108.8 C1600.8 110.9 1598.7 135.5 1596.2 137.3 C1593.8 139.0 1564.3 137.3 1561.7 135.2 C1559.1 133.2 1555.2 108.6 1557.7 106.8Z" fill="#0d0d0d" opacity="0.72"/>
<path d="M1565.8 260.5 C1567.3 258.4 1588.4 260.1 1590.2 262.6 C1592.0 265.0 1593.7 294.9 1592.2 297.1 C1590.7 299.3 1569.6 297.5 1567.9 295.1 C1566.1 292.6 1564.3 262.7 1565.8 260.5Z" fill="#0d0d0d" opacity="0.72"/>
<path d="M1444.1 321.1 C1445.8 319.4 1468.6 321.1 1470.5 323.1 C1472.4 325.2 1474.2 349.8 1472.6 351.6 C1470.9 353.3 1448.1 351.6 1446.2 349.5 C1444.3 347.5 1442.5 322.9 1444.1 321.1Z" fill="#0d0d0d" opacity="0.72"/>
<path d="M1624.6 309.8 C1626.4 308.1 1651.3 309.8 1653.0 311.9 C1654.8 313.9 1652.8 338.5 1651.0 340.3 C1649.2 342.0 1628.4 340.3 1626.6 338.3 C1624.9 336.2 1622.8 311.6 1624.6 309.8Z" fill="#0d0d0d" opacity="0.72"/>
<path d="M1171.4 404.3 C1173.4 402.1 1196.2 401.8 1200.1 402.4 C1203.9 402.9 1226.3 410.0 1228.7 411.9 C1231.1 413.8 1237.1 428.6 1236.4 431.0 C1235.6 433.4 1219.7 446.2 1217.3 448.2 C1214.8 450.3 1202.9 461.0 1200.1 461.6 C1197.2 462.2 1177.2 459.6 1175.2 457.8 C1173.2 456.0 1169.7 438.4 1169.5 434.8 C1169.2 431.3 1169.3 406.4 1171.4 404.3Z" fill="#0d0d0d" opacity="0.72"/>
<path d="M1171.9 466.9 C1173.3 464.3 1197.0 464.8 1198.7 466.9 C1200.4 468.9 1198.2 494.9 1196.8 497.4 C1195.4 500.0 1179.3 507.1 1177.7 505.1 C1176.0 503.0 1170.5 469.4 1171.9 466.9Z" fill="#0d0d0d" opacity="0.72"/>
<path d="M1259.4 472.9 C1261.4 471.1 1287.4 469.9 1289.9 471.0 C1292.5 472.2 1298.4 487.8 1297.6 490.1 C1296.8 492.4 1281.0 504.9 1278.5 505.4 C1275.9 505.9 1260.6 499.9 1259.4 497.8 C1258.1 495.6 1257.3 474.7 1259.4 472.9Z" fill="#0d0d0d" opacity="0.72"/>
<path d="M1238.5 514.0 C1240.8 511.7 1273.9 512.2 1276.7 514.0 C1279.5 515.8 1281.8 537.8 1280.5 540.8 C1279.2 543.7 1260.1 557.4 1257.6 558.0 C1255.0 558.5 1243.6 551.3 1242.3 548.4 C1241.0 545.5 1236.2 516.3 1238.5 514.0Z" fill="#0d0d0d" opacity="0.72"/>
<path d="M1305.9 543.4 C1308.0 541.6 1334.2 541.6 1336.5 543.4 C1338.8 545.2 1341.3 567.6 1340.3 570.2 C1339.3 572.7 1323.5 581.7 1321.2 581.7 C1318.9 581.7 1306.9 572.7 1305.9 570.2 C1304.9 567.6 1303.9 545.2 1305.9 543.4Z" fill="#0d0d0d" opacity="0.72"/>
<path d="M1354.3 569.3 C1356.1 568.1 1377.3 570.6 1379.2 573.2 C1381.1 575.7 1384.0 604.8 1383.0 607.6 C1382.0 610.4 1365.9 616.2 1363.9 615.2 C1361.9 614.2 1353.1 595.3 1352.4 592.3 C1351.8 589.2 1352.6 570.6 1354.3 569.3Z" fill="#0d0d0d" opacity="0.72"/>
<path d="M1391.2 589.8 C1393.5 588.0 1422.8 584.5 1425.6 586.0 C1428.4 587.5 1434.3 610.2 1433.2 612.7 C1432.2 615.3 1413.1 624.2 1410.3 624.2 C1407.5 624.2 1392.5 615.0 1391.2 612.7 C1389.9 610.5 1388.9 591.6 1391.2 589.8Z" fill="#0d0d0d" opacity="0.72"/>
<path d="M1293.2 409.5 C1294.5 406.9 1317.9 405.4 1320.0 407.6 C1322.0 409.7 1325.1 439.4 1323.8 442.0 C1322.5 444.5 1302.9 447.9 1300.8 445.8 C1298.8 443.6 1291.9 412.0 1293.2 409.5Z" fill="#0d0d0d" opacity="0.72"/>
<path d="M1382.3 390.1 C1384.0 388.0 1409.0 388.3 1411.0 390.1 C1413.0 391.9 1414.6 414.8 1412.9 416.8 C1411.3 418.9 1388.2 422.5 1386.2 420.7 C1384.1 418.9 1380.7 392.1 1382.3 390.1Z" fill="#0d0d0d" opacity="0.72"/>
<path d="M1314.9 474.6 C1316.6 472.9 1346.7 471.4 1349.3 472.6 C1351.8 473.9 1354.9 492.0 1353.1 493.7 C1351.3 495.3 1325.1 498.8 1322.5 497.5 C1320.0 496.2 1313.1 476.2 1314.9 474.6Z" fill="#0d0d0d" opacity="0.72"/>
<path d="M1437.2 517.5 C1438.2 515.0 1457.5 507.6 1459.0 509.9 C1460.4 512.2 1460.0 549.4 1459.0 551.9 C1457.9 554.5 1444.4 550.4 1442.9 548.1 C1441.4 545.8 1436.1 520.1 1437.2 517.5Z" fill="#0d0d0d" opacity="0.72"/>
<path d="M1308.5 593.5 C1310.1 592.0 1338.4 592.3 1341.0 593.5 C1343.7 594.8 1350.2 611.1 1348.7 612.6 C1347.1 614.2 1320.8 617.7 1318.1 616.5 C1315.4 615.2 1307.0 595.1 1308.5 593.5Z" fill="#0d0d0d" opacity="0.72"/>
<path d="M1545.3 509.8 C1547.3 507.5 1571.8 502.1 1575.9 502.1 C1580.0 502.1 1604.3 507.0 1606.5 509.8 C1608.6 512.6 1609.6 540.9 1608.4 544.2 C1607.1 547.5 1590.5 558.7 1587.3 559.5 C1584.2 560.2 1563.4 557.2 1560.6 555.7 C1557.8 554.1 1546.3 539.6 1545.3 536.5 C1544.3 533.5 1543.3 512.1 1545.3 509.8Z" fill="#0d0d0d" opacity="0.72"/>
<path d="M1470.2 501.0 C1473.0 498.9 1504.9 492.3 1508.4 493.3 C1511.8 494.3 1521.8 513.2 1521.8 516.3 C1521.8 519.3 1510.9 537.4 1508.4 539.2 C1505.8 541.0 1486.3 544.0 1483.5 543.0 C1480.7 542.0 1467.2 526.7 1466.3 523.9 C1465.4 521.1 1467.4 503.0 1470.2 501.0Z" fill="#0d0d0d" opacity="0.72"/>
<path d="M1552.7 569.6 C1555.5 568.6 1583.8 568.1 1587.1 569.6 C1590.4 571.2 1601.7 589.5 1602.4 592.6 C1603.2 595.6 1600.4 613.6 1598.6 615.5 C1596.8 617.4 1578.7 621.7 1575.7 621.2 C1572.6 620.7 1554.8 610.3 1552.7 607.9 C1550.7 605.4 1545.1 587.5 1545.1 584.9 C1545.1 582.4 1549.9 570.7 1552.7 569.6Z" fill="#0d0d0d" opacity="0.72"/>
<path d="M1616.5 569.0 C1618.6 566.7 1648.1 567.5 1650.9 569.0 C1653.7 570.5 1659.1 589.4 1658.6 591.9 C1658.1 594.5 1645.8 606.5 1643.3 607.2 C1640.7 608.0 1622.1 606.0 1620.3 603.4 C1618.6 600.9 1614.5 571.3 1616.5 569.0Z" fill="#0d0d0d" opacity="0.72"/>
<path d="M1513.4 594.8 C1515.2 593.3 1534.5 592.3 1536.3 594.8 C1538.1 597.4 1541.2 629.7 1540.1 633.0 C1539.1 636.4 1523.1 645.5 1521.0 644.5 C1519.0 643.5 1510.1 621.1 1509.6 617.8 C1509.1 614.4 1511.6 596.4 1513.4 594.8Z" fill="#0d0d0d" opacity="0.72"/>
<path d="M1578.7 430.9 C1581.8 429.8 1617.0 431.4 1620.8 432.8 C1624.6 434.2 1635.8 449.6 1636.1 451.9 C1636.3 454.2 1627.7 466.4 1624.6 467.2 C1621.6 467.9 1593.5 464.6 1590.2 463.4 C1586.9 462.1 1575.7 450.2 1574.9 448.1 C1574.2 445.9 1575.7 431.9 1578.7 430.9Z" fill="#0d0d0d" opacity="0.72"/>
<path d="M1662.8 408.7 C1665.1 407.4 1690.6 410.2 1693.4 412.5 C1696.2 414.8 1704.9 439.2 1704.9 443.1 C1704.9 446.9 1695.7 468.8 1693.4 469.8 C1691.1 470.8 1672.8 460.9 1670.5 458.4 C1668.2 455.8 1659.5 434.9 1659.0 431.6 C1658.5 428.3 1660.5 409.9 1662.8 408.7Z" fill="#0d0d0d" opacity="0.72"/>
<path d="M1484.5 387.9 C1486.0 385.9 1512.8 386.2 1515.1 387.9 C1517.4 389.5 1520.4 410.8 1518.9 412.7 C1517.4 414.6 1494.4 418.2 1492.1 416.5 C1489.8 414.9 1483.0 389.8 1484.5 387.9Z" fill="#0d0d0d" opacity="0.72"/>
<path d="M1636.9 522.6 C1638.9 521.3 1661.4 523.9 1663.7 526.4 C1666.0 529.0 1672.3 558.0 1671.3 560.8 C1670.3 563.6 1650.9 569.5 1648.4 568.5 C1645.8 567.5 1633.8 548.6 1633.1 545.6 C1632.3 542.5 1634.9 523.9 1636.9 522.6Z" fill="#0d0d0d" opacity="0.72"/>
<path d="M1526.8 455.7 C1528.6 454.2 1555.2 456.1 1557.4 457.6 C1559.5 459.1 1561.1 477.1 1559.3 478.6 C1557.5 480.2 1532.8 482.1 1530.6 480.6 C1528.5 479.0 1525.0 457.2 1526.8 455.7Z" fill="#0d0d0d" opacity="0.72"/>
<path d="M1436.0 428.0 C1442.0 420.0 1459.3 419.3 1470.0 420.0 C1480.7 420.7 1494.3 425.0 1500.0 432.0 C1505.7 439.0 1505.7 453.3 1504.0 462.0 C1502.3 470.7 1498.0 480.0 1490.0 484.0 C1482.0 488.0 1465.3 488.7 1456.0 486.0 C1446.7 483.3 1437.3 477.7 1434.0 468.0 C1430.7 458.3 1430.0 436.0 1436.0 428.0Z" fill="#adadad"/>
<path d="M1362.0 480.0 C1367.7 473.7 1384.0 466.0 1392.0 468.0 C1400.0 470.0 1402.0 486.7 1410.0 492.0 C1418.0 497.3 1432.3 493.7 1440.0 500.0 C1447.7 506.3 1455.0 519.0 1456.0 530.0 C1457.0 541.0 1453.3 557.3 1446.0 566.0 C1438.7 574.7 1422.3 581.3 1412.0 582.0 C1401.7 582.7 1391.7 577.0 1384.0 570.0 C1376.3 563.0 1370.3 550.7 1366.0 540.0 C1361.7 529.3 1358.7 516.0 1358.0 506.0 C1357.3 496.0 1356.3 486.3 1362.0 480.0Z" fill="#c7c7c7"/>
<path d="M1512.0 146.0 C1517.3 141.3 1533.3 138.3 1540.0 142.0 C1546.7 145.7 1551.0 160.0 1552.0 168.0 C1553.0 176.0 1551.3 186.0 1546.0 190.0 C1540.7 194.0 1526.3 195.3 1520.0 192.0 C1513.7 188.7 1509.3 177.7 1508.0 170.0 C1506.7 162.3 1506.7 150.7 1512.0 146.0Z" fill="#c7c7c7"/>
<path d="M1118.0 296.0 C1122.0 291.0 1133.3 287.3 1140.0 288.0 C1146.7 288.7 1154.7 293.7 1158.0 300.0 C1161.3 306.3 1162.0 319.0 1160.0 326.0 C1158.0 333.0 1151.7 340.3 1146.0 342.0 C1140.3 343.7 1131.0 340.0 1126.0 336.0 C1121.0 332.0 1117.3 324.7 1116.0 318.0 C1114.7 311.3 1114.0 301.0 1118.0 296.0Z" fill="#d6d6d6"/>
<path d="M1146.0 338.0 C1148.7 334.7 1156.7 337.7 1160.0 344.0 C1163.3 350.3 1167.0 369.0 1166.0 376.0 C1165.0 383.0 1157.7 388.0 1154.0 386.0 C1150.3 384.0 1145.3 372.0 1144.0 364.0 C1142.7 356.0 1143.3 341.3 1146.0 338.0Z" fill="#c2c2c2"/>
<path d="M1226.0 368.0 C1229.3 363.3 1241.3 358.0 1246.0 362.0 C1250.7 366.0 1255.3 385.3 1254.0 392.0 C1252.7 398.7 1242.7 402.3 1238.0 402.0 C1233.3 401.7 1228.0 395.7 1226.0 390.0 C1224.0 384.3 1222.7 372.7 1226.0 368.0Z" fill="#bdbdbd"/>
<path d="M1205.0 540.0 C1207.2 532.7 1220.8 539.7 1225.0 548.0 C1229.2 556.3 1232.2 582.7 1230.0 590.0 C1227.8 597.3 1216.2 600.3 1212.0 592.0 C1207.8 583.7 1202.8 547.3 1205.0 540.0Z" fill="#cccccc"/>
<path d="M1462.0 236.0 C1463.7 228.3 1476.7 228.7 1484.0 234.0 C1491.3 239.3 1498.3 253.7 1506.0 268.0 C1513.7 282.3 1524.3 307.0 1530.0 320.0 C1535.7 333.0 1541.0 341.0 1540.0 346.0 C1539.0 351.0 1530.7 354.3 1524.0 350.0 C1517.3 345.7 1508.3 331.7 1500.0 320.0 C1491.7 308.3 1480.3 294.0 1474.0 280.0 C1467.7 266.0 1460.3 243.7 1462.0 236.0Z" fill="#d1d1d1"/>
</g>
<g filter="url(#blur3)"><path d="M1463.0 241.0 C1466.0 237.3 1477.7 234.2 1483.0 236.0 C1488.3 237.8 1490.5 245.2 1495.0 252.0 C1499.5 258.8 1505.5 268.3 1510.0 277.0 C1514.5 285.7 1522.0 298.8 1522.0 304.0 C1522.0 309.2 1515.0 309.7 1510.0 308.0 C1505.0 306.3 1497.7 299.3 1492.0 294.0 C1486.3 288.7 1480.5 282.0 1476.0 276.0 C1471.5 270.0 1467.2 263.8 1465.0 258.0 C1462.8 252.2 1460.0 244.7 1463.0 241.0Z" fill="#fcfcfc"/></g>
</g>
<ellipse cx="1127" cy="266" rx="4" ry="6" fill="#b5130f" transform="rotate(20 1127 266)"/>
<ellipse cx="1660" cy="506" rx="10" ry="7" fill="#02060c"/>
<rect x="1553" y="178" width="90" height="38" fill="#000" opacity="0.55"/>
<rect x="1597" y="216" width="72" height="30" fill="#000" opacity="0.55"/>
<rect x="1232" y="585" width="52" height="34" fill="#000" opacity="0.55"/>
<rect x="1197" y="619" width="120" height="26" fill="#000" opacity="0.55"/>
</g>
<rect x="1018" y="404" width="22" height="205" fill="url(#gBar)"/>
<text x="1007.46" y="389.9" font-size="27.50" fill="#fff" font-weight="normal" textLength="44.19" lengthAdjust="spacingAndGlyphs" >Mg</text>
<text x="1050.12" y="426.9" font-size="24.00" fill="#fff" font-weight="normal" textLength="53.52" lengthAdjust="spacingAndGlyphs" >High</text>
<text x="1050.19" y="601.8" font-size="24.00" fill="#fff" font-weight="normal" textLength="46.10" lengthAdjust="spacingAndGlyphs" >Low</text>
<text x="1560.49" y="204.4" font-size="28.00" fill="#fff600" font-weight="normal" textLength="186.59" lengthAdjust="spacingAndGlyphs" >Opx xenocryst</text>
<text x="1596.26" y="236.1" font-size="28.00" fill="#fff600" font-weight="normal" textLength="116.23" lengthAdjust="spacingAndGlyphs" >(Mg# 89)</text>
<line x1="1579.4" y1="230.6" x2="1505.1" y2="272.0" stroke="#fff600" stroke-width="2.2"/><polygon points="1492.9,278.8 1507.2,261.2 1506.0,271.5 1515.3,275.9" fill="#fff600"/>
<text x="1233.63" y="609.0" font-size="28.00" fill="#fff600" font-weight="normal" textLength="46.47" lengthAdjust="spacingAndGlyphs" >Pig</text>
<text x="1197.43" y="640.0" font-size="28.00" fill="#fff600" font-weight="normal" textLength="118.30" lengthAdjust="spacingAndGlyphs" >(Mg# 70)</text>
<line x1="1292.4" y1="603.0" x2="1381.8" y2="551.4" stroke="#fff600" stroke-width="2.2"/><polygon points="1393.9,544.4 1379.9,562.2 1380.9,551.9 1371.5,547.6" fill="#fff600"/>
<rect x="993" y="692" width="200" height="5" fill="#fff"/>
<text x="1044.94" y="678.5" font-size="27.50" fill="#fff" font-weight="normal" textLength="96.50" lengthAdjust="spacingAndGlyphs" >100 μm</text></g>
<g id="pc"><rect x="1" y="828" width="897" height="674" fill="#030303"/>
<g filter="url(#rough8)"><polygon points="208.7,1170.0 222.2,1145.9 226.7,1112.0 229.0,1089.4 238.0,1075.0 240.0,1051.1 230.0,1037.6 238.0,1021.8 232.0,1008.2 226.7,997.0 231.2,987.9 243.0,974.4 241.4,958.6 253.8,951.8 271.8,945.1 296.6,940.5 312.4,933.8 337.3,931.5 346.3,922.5 375.6,924.8 398.2,909.0 420.7,906.7 441.0,893.2 447.8,879.6 455.7,871.7 465.9,886.4 488.4,897.7 511.0,904.5 522.6,902.2 540.6,911.2 567.7,911.2 590.2,906.7 608.3,915.7 626.3,907.8 628.6,914.6 608.3,931.5 600.0,946.0 612.0,952.0 628.0,950.0 640.0,962.0 655.0,966.0 656.0,948.0 664.0,944.0 680.0,950.0 686.0,960.0 685.0,976.6 676.0,996.0 690.0,1006.0 698.5,1010.5 710.9,1021.8 712.1,1044.3 705.3,1066.9 703.0,1089.4 709.8,1107.5 723.4,1121.0 730.1,1134.6 743.7,1145.9 754.9,1159.4 759.4,1170.0 757.2,1182.6 770.7,1205.1 779.8,1227.7 793.3,1245.7 804.6,1266.0 811.3,1281.8 818.1,1297.6 802.3,1308.9 793.3,1322.4 795.5,1345.0 800.0,1363.0 793.3,1381.1 777.5,1392.4 748.2,1396.9 725.6,1390.1 716.6,1378.8 694.0,1390.1 669.2,1401.4 648.9,1405.9 635.4,1417.2 612.8,1412.7 590.2,1403.7 556.4,1408.2 533.8,1396.9 515.5,1394.6 483.9,1403.7 465.9,1414.9 452.3,1426.2 447.8,1446.5 432.0,1457.8 420.7,1446.5 416.2,1430.7 398.2,1426.2 375.6,1419.4 364.3,1408.2 353.0,1392.4 341.8,1376.6 330.5,1358.5 312.4,1340.5 296.6,1333.7 276.3,1342.7 256.0,1351.8 267.3,1363.0 285.4,1385.6 289.9,1419.4 285.4,1426.2 267.3,1439.7 253.8,1435.2 240.2,1419.4 224.4,1396.9 213.2,1374.3 219.9,1358.5 206.4,1336.0 195.1,1313.4 204.1,1288.6 206.4,1266.0 219.9,1250.2 210.9,1227.7 215.4,1205.1 206.4,1182.6" fill="#9a9a9a" stroke="#9a9a9a" stroke-width="6" stroke-linejoin="round"/></g>
<clipPath id="clipC"><polygon points="208.7,1170.0 222.2,1145.9 226.7,1112.0 229.0,1089.4 238.0,1075.0 240.0,1051.1 230.0,1037.6 238.0,1021.8 232.0,1008.2 226.7,997.0 231.2,987.9 243.0,974.4 241.4,958.6 253.8,951.8 271.8,945.1 296.6,940.5 312.4,933.8 337.3,931.5 346.3,922.5 375.6,924.8 398.2,909.0 420.7,906.7 441.0,893.2 447.8,879.6 455.7,871.7 465.9,886.4 488.4,897.7 511.0,904.5 522.6,902.2 540.6,911.2 567.7,911.2 590.2,906.7 608.3,915.7 626.3,907.8 628.6,914.6 608.3,931.5 600.0,946.0 612.0,952.0 628.0,950.0 640.0,962.0 655.0,966.0 656.0,948.0 664.0,944.0 680.0,950.0 686.0,960.0 685.0,976.6 676.0,996.0 690.0,1006.0 698.5,1010.5 710.9,1021.8 712.1,1044.3 705.3,1066.9 703.0,1089.4 709.8,1107.5 723.4,1121.0 730.1,1134.6 743.7,1145.9 754.9,1159.4 759.4,1170.0 757.2,1182.6 770.7,1205.1 779.8,1227.7 793.3,1245.7 804.6,1266.0 811.3,1281.8 818.1,1297.6 802.3,1308.9 793.3,1322.4 795.5,1345.0 800.0,1363.0 793.3,1381.1 777.5,1392.4 748.2,1396.9 725.6,1390.1 716.6,1378.8 694.0,1390.1 669.2,1401.4 648.9,1405.9 635.4,1417.2 612.8,1412.7 590.2,1403.7 556.4,1408.2 533.8,1396.9 515.5,1394.6 483.9,1403.7 465.9,1414.9 452.3,1426.2 447.8,1446.5 432.0,1457.8 420.7,1446.5 416.2,1430.7 398.2,1426.2 375.6,1419.4 364.3,1408.2 353.0,1392.4 341.8,1376.6 330.5,1358.5 312.4,1340.5 296.6,1333.7 276.3,1342.7 256.0,1351.8 267.3,1363.0 285.4,1385.6 289.9,1419.4 285.4,1426.2 267.3,1439.7 253.8,1435.2 240.2,1419.4 224.4,1396.9 213.2,1374.3 219.9,1358.5 206.4,1336.0 195.1,1313.4 204.1,1288.6 206.4,1266.0 219.9,1250.2 210.9,1227.7 215.4,1205.1 206.4,1182.6"/></clipPath>
<g filter="url(#rough4)">
<polygon points="208.7,1170.0 222.2,1145.9 226.7,1112.0 229.0,1089.4 238.0,1075.0 240.0,1051.1 230.0,1037.6 238.0,1021.8 232.0,1008.2 226.7,997.0 231.2,987.9 243.0,974.4 241.4,958.6 253.8,951.8 271.8,945.1 296.6,940.5 312.4,933.8 337.3,931.5 346.3,922.5 375.6,924.8 398.2,909.0 420.7,906.7 441.0,893.2 447.8,879.6 455.7,871.7 465.9,886.4 488.4,897.7 511.0,904.5 522.6,902.2 540.6,911.2 567.7,911.2 590.2,906.7 608.3,915.7 626.3,907.8 628.6,914.6 608.3,931.5 600.0,946.0 612.0,952.0 628.0,950.0 640.0,962.0 655.0,966.0 656.0,948.0 664.0,944.0 680.0,950.0 686.0,960.0 685.0,976.6 676.0,996.0 690.0,1006.0 698.5,1010.5 710.9,1021.8 712.1,1044.3 705.3,1066.9 703.0,1089.4 709.8,1107.5 723.4,1121.0 730.1,1134.6 743.7,1145.9 754.9,1159.4 759.4,1170.0 757.2,1182.6 770.7,1205.1 779.8,1227.7 793.3,1245.7 804.6,1266.0 811.3,1281.8 818.1,1297.6 802.3,1308.9 793.3,1322.4 795.5,1345.0 800.0,1363.0 793.3,1381.1 777.5,1392.4 748.2,1396.9 725.6,1390.1 716.6,1378.8 694.0,1390.1 669.2,1401.4 648.9,1405.9 635.4,1417.2 612.8,1412.7 590.2,1403.7 556.4,1408.2 533.8,1396.9 515.5,1394.6 483.9,1403.7 465.9,1414.9 452.3,1426.2 447.8,1446.5 432.0,1457.8 420.7,1446.5 416.2,1430.7 398.2,1426.2 375.6,1419.4 364.3,1408.2 353.0,1392.4 341.8,1376.6 330.5,1358.5 312.4,1340.5 296.6,1333.7 276.3,1342.7 256.0,1351.8 267.3,1363.0 285.4,1385.6 289.9,1419.4 285.4,1426.2 267.3,1439.7 253.8,1435.2 240.2,1419.4 224.4,1396.9 213.2,1374.3 219.9,1358.5 206.4,1336.0 195.1,1313.4 204.1,1288.6 206.4,1266.0 219.9,1250.2 210.9,1227.7 215.4,1205.1 206.4,1182.6" fill="#5fb6d9"/>
<g clip-path="url(#clipC)">
<path d="M456.2 881.5 C457.1 881.1 466.5 891.0 468.8 892.3 C471.0 893.5 499.3 905.6 501.0 906.6 C502.7 907.6 503.4 911.2 502.8 912.0 C502.3 912.8 491.4 921.7 490.3 922.7 C489.1 923.7 480.9 931.8 479.5 931.7 C478.2 931.6 464.9 921.6 463.4 920.9 C461.9 920.2 449.7 918.4 449.1 917.3 C448.4 916.3 450.5 901.2 450.9 899.4 C451.2 897.6 455.3 881.9 456.2 881.5Z" fill="#fbd6a6" stroke="#fbd6a6" stroke-width="7" stroke-linejoin="round"/>
<path d="M431.1 928.1 C431.8 926.6 448.6 922.3 450.9 922.7 C453.1 923.2 475.0 935.8 475.9 937.0 C476.8 938.3 469.4 946.6 468.8 947.8 C468.1 949.0 464.3 959.5 463.4 960.3 C462.5 961.1 452.1 964.3 450.9 963.9 C449.6 963.6 439.3 955.0 438.3 953.2 C437.3 951.4 430.5 929.6 431.1 928.1Z" fill="#fbd6a6" stroke="#fbd6a6" stroke-width="7" stroke-linejoin="round"/>
<path d="M307.5 942.4 C309.1 942.0 327.6 943.7 329.0 944.2 C330.4 944.8 335.3 952.4 336.2 953.2 C337.1 954.0 347.5 959.3 346.9 960.3 C346.4 961.4 327.2 973.5 325.4 974.7 C323.6 975.8 312.3 983.5 311.1 983.6 C309.8 983.7 300.5 977.6 300.3 976.5 C300.2 975.3 307.7 961.5 307.5 960.3 C307.3 959.2 296.8 954.1 296.8 953.2 C296.8 952.3 305.9 942.9 307.5 942.4Z" fill="#fbd6a6" stroke="#fbd6a6" stroke-width="7" stroke-linejoin="round"/>
<path d="M363.1 935.3 C363.9 934.6 377.9 931.5 379.2 931.7 C380.4 931.9 387.6 937.8 388.1 938.8 C388.7 939.9 390.4 952.3 389.9 953.2 C389.5 954.1 380.3 956.8 379.2 956.8 C378.0 956.8 367.5 953.8 366.6 953.2 C365.7 952.5 361.4 945.1 361.3 944.2 C361.1 943.3 362.2 935.9 363.1 935.3Z" fill="#fbd6a6" stroke="#fbd6a6" stroke-width="7" stroke-linejoin="round"/>
<path d="M357.7 960.3 C358.9 959.7 377.4 956.8 379.2 956.8 C381.0 956.8 392.5 959.4 393.5 960.3 C394.5 961.2 398.5 973.2 398.9 974.7 C399.2 976.1 401.1 987.8 400.7 989.0 C400.2 990.3 391.0 999.0 389.9 999.8 C388.9 1000.5 380.1 1002.6 379.2 1003.3 C378.3 1004.1 372.9 1013.4 372.0 1014.1 C371.1 1014.8 362.3 1017.8 361.3 1017.7 C360.2 1017.6 351.4 1013.0 350.5 1012.3 C349.6 1011.6 343.4 1004.3 343.3 1003.3 C343.3 1002.4 349.1 993.5 348.7 992.6 C348.4 991.7 336.4 986.2 336.2 985.4 C335.9 984.6 342.4 977.3 343.3 976.5 C344.2 975.7 353.4 970.1 354.1 969.3 C354.8 968.5 356.4 961.0 357.7 960.3Z" fill="#fbd6a6" stroke="#fbd6a6" stroke-width="7" stroke-linejoin="round"/>
<path d="M416.8 938.8 C417.3 937.9 425.0 934.9 425.8 935.3 C426.5 935.6 431.1 944.8 431.1 946.0 C431.1 947.3 426.6 959.4 425.8 960.3 C425.0 961.3 415.5 966.1 415.0 965.7 C414.6 965.4 416.7 954.5 416.8 953.2 C416.9 951.8 416.4 939.7 416.8 938.8Z" fill="#fbd6a6" stroke="#fbd6a6" stroke-width="7" stroke-linejoin="round"/>
<path d="M406.1 996.2 C406.5 995.1 415.9 992.0 416.8 992.6 C417.7 993.2 424.1 1007.5 424.0 1008.7 C423.9 1010.0 415.8 1017.4 415.0 1017.7 C414.2 1017.9 408.3 1015.2 407.8 1014.1 C407.4 1013.0 405.6 997.3 406.1 996.2Z" fill="#fbd6a6" stroke="#fbd6a6" stroke-width="7" stroke-linejoin="round"/>
<path d="M431.1 981.8 C432.3 981.0 449.0 974.5 450.9 974.7 C452.7 974.9 467.5 984.2 468.8 985.4 C470.0 986.7 475.8 998.3 475.9 999.8 C476.1 1001.2 473.2 1013.3 472.4 1014.1 C471.5 1014.9 459.6 1016.0 458.0 1015.9 C456.4 1015.8 441.4 1013.1 440.1 1012.3 C438.8 1011.5 431.8 1000.8 431.1 999.8 C430.5 998.7 427.6 991.7 427.6 990.8 C427.6 989.9 430.0 982.6 431.1 981.8Z" fill="#fbd6a6" stroke="#fbd6a6" stroke-width="7" stroke-linejoin="round"/>
<path d="M474.1 946.0 C475.3 945.4 492.3 943.7 493.9 944.2 C495.4 944.8 503.7 955.2 504.6 956.8 C505.5 958.3 511.0 973.2 511.8 974.7 C512.5 976.1 519.6 984.4 520.0 985.4 C520.4 986.5 520.6 995.8 520.0 996.2 C519.4 996.5 509.5 992.5 508.2 992.6 C506.9 992.7 495.3 998.1 493.9 998.0 C492.4 997.8 480.6 990.4 479.5 989.0 C478.4 987.7 472.8 972.7 472.4 971.1 C471.9 969.5 470.5 958.0 470.6 956.8 C470.7 955.5 473.0 946.6 474.1 946.0Z" fill="#fbd6a6" stroke="#fbd6a6" stroke-width="7" stroke-linejoin="round"/>
<path d="M386.3 1024.8 C386.7 1023.7 399.6 1020.9 400.7 1021.3 C401.8 1021.6 406.9 1031.1 407.8 1032.0 C408.8 1032.9 419.5 1038.3 420.4 1039.2 C421.3 1040.1 426.0 1049.1 425.8 1049.9 C425.5 1050.7 416.1 1055.2 415.0 1055.3 C413.9 1055.4 405.3 1052.3 404.3 1051.7 C403.2 1051.2 394.4 1045.9 393.5 1044.6 C392.6 1043.2 386.0 1026.0 386.3 1024.8Z" fill="#fbd6a6" stroke="#fbd6a6" stroke-width="7" stroke-linejoin="round"/>
<path d="M431.1 1024.8 C432.0 1024.1 446.1 1020.5 447.3 1021.3 C448.4 1022.0 453.8 1037.7 454.4 1039.2 C455.1 1040.6 460.0 1049.0 459.8 1049.9 C459.6 1050.8 451.8 1056.6 450.9 1057.1 C449.9 1057.6 441.0 1061.2 440.1 1060.7 C439.2 1060.1 433.5 1047.6 432.9 1046.3 C432.4 1045.1 429.4 1036.7 429.3 1035.6 C429.3 1034.5 430.2 1025.6 431.1 1024.8Z" fill="#fbd6a6" stroke="#fbd6a6" stroke-width="7" stroke-linejoin="round"/>
<path d="M384.6 1055.3 C385.5 1054.7 399.2 1051.6 400.7 1051.7 C402.2 1051.8 414.2 1056.3 415.0 1057.1 C415.8 1057.9 417.3 1067.0 416.8 1067.8 C416.3 1068.7 405.6 1074.7 404.3 1075.0 C402.9 1075.3 391.0 1073.8 389.9 1073.2 C388.9 1072.7 383.0 1065.2 382.8 1064.3 C382.5 1063.4 383.7 1055.9 384.6 1055.3Z" fill="#fbd6a6" stroke="#fbd6a6" stroke-width="7" stroke-linejoin="round"/>
<path d="M314.7 1067.8 C314.9 1067.0 324.5 1065.8 325.4 1066.1 C326.3 1066.3 331.7 1073.0 332.6 1073.2 C333.5 1073.5 342.1 1071.3 343.3 1071.4 C344.6 1071.5 356.8 1074.3 357.7 1075.0 C358.6 1075.7 361.8 1085.0 361.3 1085.8 C360.7 1086.6 348.4 1091.0 346.9 1091.1 C345.5 1091.3 333.8 1089.8 332.6 1089.3 C331.3 1088.9 322.7 1083.3 321.8 1082.2 C320.9 1081.1 314.5 1068.7 314.7 1067.8Z" fill="#fbd6a6" stroke="#fbd6a6" stroke-width="7" stroke-linejoin="round"/>
<path d="M354.1 1075.0 C355.3 1073.8 370.4 1071.4 372.0 1071.4 C373.6 1071.4 385.3 1074.1 386.3 1075.0 C387.4 1075.9 393.3 1088.1 393.5 1089.3 C393.7 1090.6 390.6 1099.0 389.9 1100.1 C389.2 1101.2 380.1 1109.4 379.2 1110.9 C378.3 1112.3 373.3 1129.1 372.0 1130.0 C370.8 1131.0 355.2 1131.0 354.1 1130.0 C353.0 1129.1 350.9 1112.5 350.5 1110.9 C350.2 1109.2 346.7 1098.3 346.9 1096.5 C347.1 1094.7 352.8 1076.3 354.1 1075.0Z" fill="#fbd6a6" stroke="#fbd6a6" stroke-width="7" stroke-linejoin="round"/>
<path d="M375.6 1110.9 C376.2 1109.5 388.9 1103.5 389.9 1103.7 C391.0 1103.9 397.1 1113.1 397.1 1114.4 C397.1 1115.8 390.9 1129.2 389.9 1130.0 C388.9 1130.8 378.1 1131.0 377.4 1130.0 C376.7 1129.1 375.0 1112.2 375.6 1110.9Z" fill="#fbd6a6" stroke="#fbd6a6" stroke-width="7" stroke-linejoin="round"/>
<path d="M427.6 1075.0 C428.0 1074.0 437.1 1072.9 438.3 1073.2 C439.5 1073.6 449.7 1081.2 450.9 1082.2 C452.0 1083.2 461.2 1091.7 461.6 1092.9 C462.0 1094.2 458.7 1106.2 458.0 1107.3 C457.3 1108.3 448.5 1113.9 447.3 1114.4 C446.0 1115.0 434.0 1118.4 432.9 1118.0 C431.9 1117.7 425.9 1108.5 425.8 1107.3 C425.6 1106.0 429.3 1094.5 429.3 1092.9 C429.4 1091.3 427.1 1076.0 427.6 1075.0Z" fill="#fbd6a6" stroke="#fbd6a6" stroke-width="7" stroke-linejoin="round"/>
<path d="M450.9 1085.8 C451.7 1084.4 467.0 1083.8 468.8 1084.0 C470.6 1084.2 485.1 1088.5 486.7 1089.3 C488.3 1090.2 500.1 1098.7 501.0 1100.1 C501.9 1101.5 504.9 1116.5 504.6 1118.0 C504.3 1119.5 498.2 1129.4 495.6 1130.0 C493.1 1130.6 456.7 1131.0 454.4 1130.0 C452.2 1129.1 451.0 1113.1 450.9 1110.9 C450.7 1108.6 450.0 1087.1 450.9 1085.8Z" fill="#fbd6a6" stroke="#fbd6a6" stroke-width="7" stroke-linejoin="round"/>
<path d="M479.5 1064.3 C480.3 1063.7 493.0 1063.5 493.9 1064.3 C494.8 1065.0 497.8 1077.6 497.4 1078.6 C497.1 1079.6 487.7 1084.2 486.7 1084.0 C485.7 1083.8 478.1 1076.0 477.7 1075.0 C477.4 1074.0 478.7 1064.8 479.5 1064.3Z" fill="#fbd6a6" stroke="#fbd6a6" stroke-width="7" stroke-linejoin="round"/>
<path d="M226.9 1107.3 C227.2 1106.6 235.0 1103.5 235.8 1103.7 C236.6 1103.9 242.9 1110.1 243.0 1110.9 C243.1 1111.6 238.3 1117.7 237.6 1118.0 C236.9 1118.3 229.2 1116.8 228.7 1116.2 C228.1 1115.7 226.5 1107.9 226.9 1107.3Z" fill="#fbd6a6" stroke="#fbd6a6" stroke-width="7" stroke-linejoin="round"/>
<path d="M241.2 1091.1 C241.8 1090.4 252.6 1085.8 253.8 1085.8 C254.9 1085.8 264.1 1090.2 264.5 1091.1 C264.9 1092.0 261.6 1102.9 260.9 1103.7 C260.2 1104.5 251.2 1107.4 250.2 1107.3 C249.2 1107.1 241.7 1100.9 241.2 1100.1 C240.8 1099.3 240.6 1091.9 241.2 1091.1Z" fill="#fbd6a6" stroke="#fbd6a6" stroke-width="7" stroke-linejoin="round"/>
<path d="M266.3 1089.3 C266.9 1088.7 278.0 1087.0 278.8 1087.6 C279.6 1088.1 282.6 1099.2 282.4 1100.1 C282.2 1101.0 276.1 1105.5 275.3 1105.5 C274.4 1105.5 266.7 1100.9 266.3 1100.1 C265.8 1099.3 265.7 1090.0 266.3 1089.3Z" fill="#fbd6a6" stroke="#fbd6a6" stroke-width="7" stroke-linejoin="round"/>
<path d="M260.9 1109.1 C261.5 1108.4 273.6 1107.2 275.3 1107.3 C276.9 1107.4 291.6 1110.3 293.2 1110.9 C294.8 1111.4 306.4 1117.1 307.5 1118.0 C308.6 1119.0 316.1 1129.4 314.7 1130.0 C313.2 1130.6 281.3 1130.5 278.8 1130.0 C276.3 1129.5 265.4 1120.9 264.5 1119.8 C263.6 1118.8 260.4 1109.7 260.9 1109.1Z" fill="#fbd6a6" stroke="#fbd6a6" stroke-width="7" stroke-linejoin="round"/>
<path d="M284.2 1098.3 C285.0 1097.7 298.8 1094.6 300.3 1094.7 C301.9 1094.8 313.7 1099.3 314.7 1100.1 C315.7 1100.9 320.2 1110.0 320.1 1110.9 C319.9 1111.7 312.3 1117.8 311.1 1118.0 C309.9 1118.2 298.1 1115.0 296.8 1114.4 C295.4 1113.9 284.8 1108.1 284.2 1107.3 C283.6 1106.5 283.4 1098.9 284.2 1098.3Z" fill="#fbd6a6" stroke="#fbd6a6" stroke-width="7" stroke-linejoin="round"/>
<path d="M343.3 1017.7 C344.0 1017.5 348.7 1023.9 348.7 1024.8 C348.7 1025.7 344.0 1035.4 343.3 1035.6 C342.7 1035.8 336.2 1029.3 336.2 1028.4 C336.2 1027.5 342.7 1017.9 343.3 1017.7Z" fill="#fbd6a6" stroke="#fbd6a6" stroke-width="7" stroke-linejoin="round"/>
<path d="M350.5 1046.3 C350.8 1045.6 360.5 1040.8 361.3 1041.0 C362.0 1041.2 365.1 1049.2 364.8 1049.9 C364.6 1050.6 356.6 1055.5 355.9 1055.3 C355.2 1055.1 350.2 1047.1 350.5 1046.3Z" fill="#fbd6a6" stroke="#fbd6a6" stroke-width="7" stroke-linejoin="round"/>
<path d="M584.2 908.4 C585.3 907.7 595.4 907.9 596.8 908.4 C598.1 908.8 610.9 916.5 611.1 917.3 C611.3 918.1 601.7 923.6 600.3 924.5 C599.0 925.4 585.6 934.4 584.2 935.3 C582.9 936.2 574.2 942.4 573.5 942.4 C572.7 942.4 569.8 936.2 569.9 935.3 C570.0 934.3 574.5 924.1 575.3 922.7 C576.0 921.4 583.1 909.1 584.2 908.4Z" fill="#fbd6a6" stroke="#fbd6a6" stroke-width="7" stroke-linejoin="round"/>
<path d="M589.6 949.6 C590.2 948.8 603.0 947.3 603.9 947.8 C604.8 948.2 607.7 957.6 607.5 958.5 C607.3 959.5 601.1 967.2 600.3 967.5 C599.5 967.8 591.9 964.8 591.4 963.9 C590.8 963.0 589.0 950.4 589.6 949.6Z" fill="#fbd6a6" stroke="#fbd6a6" stroke-width="7" stroke-linejoin="round"/>
<path d="M555.5 980.1 C556.1 979.6 565.5 977.8 566.3 978.3 C567.1 978.7 571.4 988.1 571.7 989.0 C571.9 989.9 572.2 995.9 571.7 996.2 C571.1 996.4 561.7 994.8 560.9 994.4 C560.1 993.9 555.8 987.9 555.5 987.2 C555.3 986.5 555.0 980.5 555.5 980.1Z" fill="#fbd6a6" stroke="#fbd6a6" stroke-width="7" stroke-linejoin="round"/>
<path d="M500.0 937.0 C500.6 934.2 511.6 938.0 512.5 938.8 C513.5 939.6 519.2 951.7 519.7 953.2 C520.2 954.6 523.2 965.9 523.3 967.5 C523.4 969.1 522.1 984.2 521.5 985.4 C520.9 986.7 511.8 992.1 510.8 992.6 C509.7 993.1 500.5 999.0 500.0 996.2 C499.5 993.4 499.4 939.9 500.0 937.0Z" fill="#fbd6a6" stroke="#fbd6a6" stroke-width="7" stroke-linejoin="round"/>
<path d="M650.5 1010.5 C650.8 1010.2 664.7 1015.6 666.6 1015.9 C668.6 1016.2 689.0 1015.3 689.9 1015.9 C690.8 1016.4 685.2 1025.5 684.6 1026.6 C683.9 1027.8 678.1 1038.1 677.4 1039.2 C676.7 1040.3 670.8 1048.5 670.2 1048.1 C669.6 1047.8 665.3 1033.3 664.8 1032.0 C664.4 1030.8 662.0 1024.1 661.3 1023.1 C660.5 1022.0 650.2 1010.9 650.5 1010.5Z" fill="#fbd6a6" stroke="#fbd6a6" stroke-width="7" stroke-linejoin="round"/>
<path d="M655.9 1051.7 C656.7 1051.0 669.3 1046.1 670.2 1046.3 C671.1 1046.6 673.7 1055.7 673.8 1057.1 C673.9 1058.5 672.6 1074.3 672.0 1075.0 C671.4 1075.7 662.2 1072.1 661.3 1071.4 C660.4 1070.7 654.4 1061.7 654.1 1060.7 C653.8 1059.7 655.1 1052.4 655.9 1051.7Z" fill="#fbd6a6" stroke="#fbd6a6" stroke-width="7" stroke-linejoin="round"/>
<path d="M664.8 967.5 C665.8 966.3 680.0 956.6 681.0 956.8 C682.0 956.9 684.6 969.7 684.6 971.1 C684.5 972.4 679.8 982.4 679.2 983.6 C678.6 984.9 672.7 995.7 672.0 996.2 C671.3 996.6 665.4 993.3 664.8 992.6 C664.3 991.9 661.3 983.1 661.3 981.8 C661.3 980.6 663.9 968.8 664.8 967.5Z" fill="#fbd6a6" stroke="#fbd6a6" stroke-width="7" stroke-linejoin="round"/>
<path d="M265.3 1130.8 C266.2 1130.0 278.5 1126.6 279.6 1127.2 C280.7 1127.7 286.6 1139.9 286.8 1141.5 C286.9 1143.1 283.9 1158.2 283.2 1159.4 C282.5 1160.7 273.3 1166.8 272.4 1166.6 C271.5 1166.4 265.8 1157.1 265.3 1155.8 C264.7 1154.6 261.7 1142.8 261.7 1141.5 C261.7 1140.2 264.4 1131.5 265.3 1130.8Z" fill="#fbd6a6" stroke="#fbd6a6" stroke-width="7" stroke-linejoin="round"/>
<path d="M304.7 1130.8 C305.3 1130.0 317.6 1130.3 319.0 1130.8 C320.4 1131.2 332.4 1138.5 333.3 1139.7 C334.3 1141.0 338.9 1154.7 338.7 1155.8 C338.5 1157.0 330.9 1163.0 329.8 1163.0 C328.6 1163.0 316.6 1156.7 315.4 1155.8 C314.3 1154.9 307.0 1146.3 306.5 1145.1 C305.9 1143.8 304.0 1131.5 304.7 1130.8Z" fill="#fbd6a6" stroke="#fbd6a6" stroke-width="7" stroke-linejoin="round"/>
<path d="M281.4 1191.7 C282.2 1190.6 295.6 1183.3 297.5 1182.7 C299.4 1182.1 317.2 1179.2 319.0 1179.1 C320.8 1179.0 332.4 1180.1 333.3 1180.9 C334.3 1181.7 338.7 1194.0 338.7 1195.3 C338.7 1196.5 333.2 1204.8 333.3 1206.0 C333.5 1207.3 342.0 1218.9 342.3 1220.3 C342.6 1221.8 339.5 1233.8 338.7 1234.7 C337.9 1235.6 327.5 1237.9 326.2 1238.3 C324.8 1238.6 313.1 1242.2 311.8 1241.8 C310.6 1241.5 302.2 1232.3 301.1 1231.1 C300.0 1229.8 291.3 1218.1 290.3 1216.8 C289.4 1215.4 281.8 1205.5 281.4 1204.2 C280.9 1203.0 280.6 1192.7 281.4 1191.7Z" fill="#fbd6a6" stroke="#fbd6a6" stroke-width="7" stroke-linejoin="round"/>
<path d="M397.8 1173.8 C398.7 1172.4 417.0 1162.2 419.3 1161.2 C421.7 1160.2 442.6 1153.8 444.4 1154.0 C446.2 1154.3 454.3 1165.1 455.2 1166.6 C456.1 1168.1 461.5 1182.9 462.4 1184.5 C463.2 1186.1 472.7 1197.2 473.1 1198.8 C473.5 1200.5 470.4 1215.5 469.5 1216.8 C468.6 1218.0 456.8 1223.7 455.2 1223.9 C453.6 1224.1 439.0 1220.9 437.3 1220.3 C435.6 1219.8 422.6 1214.0 421.1 1213.2 C419.7 1212.4 409.6 1205.5 408.6 1204.2 C407.6 1203.0 402.0 1189.6 401.4 1188.1 C400.9 1186.6 397.0 1175.1 397.8 1173.8Z" fill="#fbd6a6" stroke="#fbd6a6" stroke-width="7" stroke-linejoin="round"/>
<path d="M458.8 1120.0 C461.9 1118.9 507.5 1116.6 510.0 1120.0 C512.6 1123.4 510.8 1184.3 510.0 1188.1 C509.2 1191.9 496.1 1195.3 494.6 1195.3 C493.1 1195.3 481.5 1189.3 480.3 1188.1 C479.0 1186.8 470.6 1171.8 469.5 1170.2 C468.4 1168.6 459.8 1157.3 458.8 1155.8 C457.7 1154.4 448.0 1143.3 448.0 1141.5 C448.0 1139.7 455.7 1121.1 458.8 1120.0Z" fill="#fbd6a6" stroke="#fbd6a6" stroke-width="7" stroke-linejoin="round"/>
<path d="M483.9 1198.8 C485.1 1197.8 508.7 1189.9 510.0 1191.7 C511.3 1193.5 510.8 1232.9 510.0 1234.7 C509.2 1236.5 495.8 1228.6 494.6 1227.5 C493.4 1226.4 486.2 1214.6 485.6 1213.2 C485.1 1211.7 482.6 1199.9 483.9 1198.8Z" fill="#fbd6a6" stroke="#fbd6a6" stroke-width="7" stroke-linejoin="round"/>
<path d="M365.6 1241.8 C366.4 1240.6 378.7 1234.7 379.9 1234.7 C381.2 1234.7 390.0 1240.8 390.7 1241.8 C391.4 1242.9 394.4 1254.8 394.3 1256.2 C394.1 1257.5 388.2 1268.0 387.1 1268.7 C386.0 1269.4 373.9 1271.0 372.8 1270.5 C371.6 1270.1 364.2 1261.2 363.8 1259.8 C363.4 1258.3 364.8 1243.1 365.6 1241.8Z" fill="#fbd6a6" stroke="#fbd6a6" stroke-width="7" stroke-linejoin="round"/>
<path d="M369.2 1209.6 C369.4 1208.6 377.5 1205.5 378.1 1206.0 C378.8 1206.5 382.0 1219.4 381.7 1220.3 C381.5 1221.3 373.4 1226.3 372.8 1225.7 C372.1 1225.2 368.9 1210.6 369.2 1209.6Z" fill="#fbd6a6" stroke="#fbd6a6" stroke-width="7" stroke-linejoin="round"/>
<path d="M419.3 1292.0 C419.9 1290.9 435.8 1279.3 437.3 1277.7 C438.7 1276.1 446.8 1261.4 448.0 1259.8 C449.3 1258.1 460.6 1246.0 462.4 1245.4 C464.1 1244.9 481.9 1248.5 483.9 1249.0 C485.8 1249.5 500.5 1255.5 501.8 1256.2 C503.1 1256.9 509.6 1261.2 510.0 1263.3 C510.4 1265.5 510.8 1296.5 510.0 1299.2 C509.2 1301.9 495.9 1315.7 494.6 1317.1 C493.3 1318.5 485.5 1327.7 483.9 1327.8 C482.2 1328.0 464.5 1321.7 462.4 1320.7 C460.2 1319.7 442.6 1309.2 440.9 1308.1 C439.1 1307.1 427.6 1300.0 426.5 1299.2 C425.4 1298.4 418.8 1293.1 419.3 1292.0Z" fill="#fbd6a6" stroke="#fbd6a6" stroke-width="7" stroke-linejoin="round"/>
<path d="M360.2 1324.3 C360.9 1323.2 371.4 1314.2 372.8 1313.5 C374.1 1312.8 385.5 1309.7 387.1 1309.9 C388.7 1310.2 403.4 1317.8 405.0 1318.9 C406.6 1320.0 418.1 1330.1 419.3 1331.4 C420.6 1332.8 429.0 1344.5 430.1 1345.8 C431.2 1347.0 439.8 1355.8 440.9 1356.5 C441.9 1357.2 451.2 1359.2 451.6 1360.1 C452.0 1361.0 448.7 1372.9 448.0 1374.4 C447.3 1375.9 441.2 1389.2 437.3 1390.0 C433.3 1390.8 372.9 1391.0 369.2 1390.0 C365.4 1389.1 362.6 1372.7 362.0 1370.9 C361.4 1369.0 356.8 1354.7 356.6 1352.9 C356.5 1351.1 358.2 1336.4 358.4 1335.0 C358.6 1333.6 359.5 1325.3 360.2 1324.3Z" fill="#fbd6a6" stroke="#fbd6a6" stroke-width="7" stroke-linejoin="round"/>
<path d="M396.1 1299.2 C397.0 1298.4 417.1 1291.5 419.3 1292.0 C421.6 1292.5 438.9 1308.5 440.9 1309.9 C442.8 1311.4 457.3 1319.4 458.8 1320.7 C460.2 1321.9 469.5 1333.9 469.5 1335.0 C469.5 1336.1 460.0 1342.0 458.8 1342.2 C457.5 1342.4 445.9 1339.1 444.4 1338.6 C443.0 1338.1 431.5 1332.5 430.1 1331.4 C428.7 1330.4 417.2 1318.3 415.8 1317.1 C414.3 1315.9 402.4 1309.0 401.4 1308.1 C400.4 1307.2 395.2 1300.0 396.1 1299.2Z" fill="#fbd6a6" stroke="#fbd6a6" stroke-width="7" stroke-linejoin="round"/>
<path d="M215.1 1313.5 C216.1 1312.3 231.3 1303.5 233.0 1302.8 C234.7 1302.0 247.9 1298.9 249.1 1299.2 C250.4 1299.4 258.4 1307.2 258.1 1308.1 C257.8 1309.0 244.1 1315.9 243.8 1317.1 C243.4 1318.3 250.9 1330.0 250.9 1331.4 C250.9 1332.9 244.8 1344.9 243.8 1345.8 C242.7 1346.7 230.7 1349.7 229.4 1349.3 C228.2 1349.0 219.5 1339.8 218.7 1338.6 C217.9 1337.4 213.5 1327.3 213.3 1326.1 C213.1 1324.8 214.1 1314.7 215.1 1313.5Z" fill="#fbd6a6" stroke="#fbd6a6" stroke-width="7" stroke-linejoin="round"/>
<path d="M270.6 1331.4 C271.2 1330.4 281.8 1324.7 283.2 1324.3 C284.5 1323.8 296.4 1322.1 297.5 1322.5 C298.6 1322.8 304.7 1330.4 304.7 1331.4 C304.7 1332.4 298.6 1341.2 297.5 1342.2 C296.4 1343.2 284.4 1351.0 283.2 1351.1 C281.9 1351.3 273.0 1346.8 272.4 1345.8 C271.8 1344.8 270.1 1332.5 270.6 1331.4Z" fill="#fbd6a6" stroke="#fbd6a6" stroke-width="7" stroke-linejoin="round"/>
<path d="M290.3 1301.0 C290.8 1300.3 300.2 1296.9 301.1 1297.4 C302.0 1297.8 308.3 1308.9 308.3 1309.9 C308.3 1310.9 301.9 1317.0 301.1 1317.1 C300.3 1317.2 292.7 1312.5 292.1 1311.7 C291.6 1310.9 289.9 1301.7 290.3 1301.0Z" fill="#fbd6a6" stroke="#fbd6a6" stroke-width="7" stroke-linejoin="round"/>
<path d="M220.5 1198.8 C221.0 1197.9 231.6 1195.1 233.0 1195.3 C234.4 1195.4 247.9 1201.5 249.1 1202.4 C250.4 1203.3 258.0 1212.3 258.1 1213.2 C258.2 1214.1 252.0 1220.1 250.9 1220.3 C249.8 1220.6 238.0 1218.9 236.6 1218.5 C235.2 1218.2 223.1 1214.2 222.3 1213.2 C221.4 1212.2 219.9 1199.7 220.5 1198.8Z" fill="#fbd6a6" stroke="#fbd6a6" stroke-width="7" stroke-linejoin="round"/>
<path d="M313.6 1335.0 C314.2 1334.7 325.0 1337.9 326.2 1338.6 C327.3 1339.3 336.6 1348.4 336.9 1349.3 C337.3 1350.3 334.1 1358.1 333.3 1358.3 C332.6 1358.5 323.5 1353.6 322.6 1352.9 C321.7 1352.2 315.9 1344.9 315.4 1344.0 C315.0 1343.1 313.1 1335.3 313.6 1335.0Z" fill="#fbd6a6" stroke="#fbd6a6" stroke-width="7" stroke-linejoin="round"/>
<path d="M308.3 1234.7 C308.6 1234.0 315.1 1237.4 315.4 1238.3 C315.8 1239.2 315.8 1251.9 315.4 1252.6 C315.1 1253.3 308.6 1253.5 308.3 1252.6 C307.9 1251.7 307.9 1235.4 308.3 1234.7Z" fill="#fbd6a6" stroke="#fbd6a6" stroke-width="7" stroke-linejoin="round"/>
<path d="M494.6 1317.1 C495.2 1316.0 509.2 1309.0 510.0 1309.9 C510.8 1310.8 510.6 1333.9 510.0 1335.0 C509.4 1336.1 499.0 1332.3 498.2 1331.4 C497.4 1330.5 494.0 1318.2 494.6 1317.1Z" fill="#fbd6a6" stroke="#fbd6a6" stroke-width="7" stroke-linejoin="round"/>
<path d="M500.0 1161.2 C500.9 1156.7 516.5 1152.0 517.9 1152.3 C519.4 1152.5 527.3 1166.2 528.7 1166.6 C530.0 1166.9 543.3 1159.4 544.8 1159.4 C546.3 1159.4 557.8 1165.9 559.1 1166.6 C560.5 1167.3 570.4 1173.0 571.7 1173.8 C572.9 1174.5 583.3 1179.8 584.2 1180.9 C585.1 1182.0 589.9 1194.0 589.6 1195.3 C589.3 1196.5 579.9 1204.8 578.8 1206.0 C577.8 1207.3 569.3 1219.1 568.1 1220.3 C566.8 1221.6 555.4 1230.0 553.8 1231.1 C552.1 1232.2 537.6 1241.1 535.8 1241.8 C534.0 1242.6 519.7 1245.4 517.9 1245.4 C516.1 1245.4 500.9 1246.1 500.0 1241.8 C499.1 1237.6 499.1 1165.7 500.0 1161.2Z" fill="#fbd6a6" stroke="#fbd6a6" stroke-width="7" stroke-linejoin="round"/>
<path d="M593.2 1198.8 C593.9 1197.9 609.3 1195.1 611.1 1195.3 C612.9 1195.4 627.6 1201.5 629.0 1202.4 C630.4 1203.3 639.4 1211.7 639.8 1213.2 C640.1 1214.6 637.1 1230.4 636.2 1231.1 C635.3 1231.8 623.3 1228.0 621.8 1227.5 C620.4 1227.0 608.8 1221.1 607.5 1220.3 C606.3 1219.6 597.5 1214.2 596.8 1213.2 C596.0 1212.1 592.5 1199.7 593.2 1198.8Z" fill="#fbd6a6" stroke="#fbd6a6" stroke-width="7" stroke-linejoin="round"/>
<path d="M679.2 1134.3 C679.5 1133.5 689.0 1127.3 689.9 1127.2 C690.8 1127.0 697.1 1129.9 697.1 1130.8 C697.1 1131.6 690.6 1144.5 689.9 1145.1 C689.2 1145.7 683.3 1143.8 682.8 1143.3 C682.2 1142.8 678.8 1135.1 679.2 1134.3Z" fill="#fbd6a6" stroke="#fbd6a6" stroke-width="7" stroke-linejoin="round"/>
<path d="M664.8 1175.5 C665.4 1174.6 678.6 1169.7 679.2 1170.2 C679.7 1170.6 676.1 1183.5 675.6 1184.5 C675.1 1185.5 669.0 1190.3 668.4 1189.9 C667.9 1189.4 664.3 1176.5 664.8 1175.5Z" fill="#fbd6a6" stroke="#fbd6a6" stroke-width="7" stroke-linejoin="round"/>
<path d="M686.3 1180.9 C687.4 1179.8 705.9 1177.3 707.8 1177.3 C709.8 1177.3 724.5 1179.8 725.8 1180.9 C727.0 1182.0 732.4 1197.0 732.9 1198.8 C733.5 1200.6 737.1 1215.3 736.5 1216.8 C736.0 1218.2 723.6 1227.3 722.2 1227.5 C720.7 1227.7 709.3 1220.9 707.8 1220.3 C706.4 1219.8 694.6 1217.8 693.5 1216.8 C692.4 1215.7 686.7 1200.6 686.3 1198.8 C686.0 1197.0 685.3 1182.0 686.3 1180.9Z" fill="#fbd6a6" stroke="#fbd6a6" stroke-width="7" stroke-linejoin="round"/>
<path d="M621.8 1259.8 C622.2 1258.0 634.6 1242.2 636.2 1241.8 C637.8 1241.5 651.9 1252.4 654.1 1252.6 C656.2 1252.8 676.9 1245.8 679.2 1245.4 C681.5 1245.1 699.2 1244.5 700.7 1245.4 C702.1 1246.3 707.1 1261.6 707.8 1263.3 C708.6 1265.1 713.9 1279.8 715.0 1281.3 C716.1 1282.7 728.3 1290.6 729.3 1292.0 C730.4 1293.4 735.6 1308.5 736.5 1309.9 C737.4 1311.4 747.4 1319.4 747.3 1320.7 C747.1 1321.9 734.9 1333.8 732.9 1335.0 C731.0 1336.3 710.0 1345.0 707.8 1345.8 C705.7 1346.5 691.7 1349.5 689.9 1349.3 C688.1 1349.2 673.4 1341.6 672.0 1342.2 C670.6 1342.7 662.5 1358.8 661.3 1360.1 C660.0 1361.4 648.7 1367.1 646.9 1367.3 C645.1 1367.4 626.9 1364.8 625.4 1363.7 C624.0 1362.6 619.2 1347.7 618.3 1345.8 C617.4 1343.8 607.0 1326.6 607.5 1324.3 C608.0 1321.9 627.9 1301.5 629.0 1299.2 C630.1 1296.9 629.4 1279.6 629.0 1277.7 C628.7 1275.7 621.5 1261.6 621.8 1259.8Z" fill="#fbd6a6" stroke="#fbd6a6" stroke-width="7" stroke-linejoin="round"/>
<path d="M544.8 1349.3 C545.2 1348.5 557.6 1342.2 559.1 1342.2 C560.7 1342.2 573.2 1349.3 575.3 1349.3 C577.3 1349.3 598.4 1342.0 600.3 1342.2 C602.3 1342.4 613.6 1351.7 614.7 1352.9 C615.7 1354.2 622.0 1366.2 621.8 1367.3 C621.7 1368.3 612.9 1374.3 611.1 1374.4 C609.3 1374.6 588.2 1371.2 586.0 1370.9 C583.9 1370.5 569.8 1367.8 568.1 1367.3 C566.4 1366.7 553.1 1361.0 552.0 1360.1 C550.8 1359.2 544.4 1350.2 544.8 1349.3Z" fill="#fbd6a6" stroke="#fbd6a6" stroke-width="7" stroke-linejoin="round"/>
<path d="M553.8 1299.2 C554.3 1298.1 570.1 1295.2 571.7 1295.6 C573.3 1296.0 585.1 1305.3 586.0 1306.3 C586.9 1307.4 590.1 1316.2 589.6 1317.1 C589.1 1318.0 576.7 1324.3 575.3 1324.3 C573.8 1324.3 562.0 1318.4 560.9 1317.1 C559.8 1315.8 553.2 1300.3 553.8 1299.2Z" fill="#fbd6a6" stroke="#fbd6a6" stroke-width="7" stroke-linejoin="round"/>
<path d="M747.3 1206.0 C747.8 1205.2 757.1 1203.7 758.0 1204.2 C758.9 1204.8 765.4 1215.6 765.2 1216.8 C765.0 1217.9 755.3 1227.3 754.4 1227.5 C753.5 1227.7 747.6 1221.4 747.3 1220.3 C746.9 1219.3 746.7 1206.8 747.3 1206.0Z" fill="#fbd6a6" stroke="#fbd6a6" stroke-width="7" stroke-linejoin="round"/>
<path d="M758.0 1245.4 C758.6 1244.4 774.5 1241.3 775.9 1241.8 C777.4 1242.4 786.5 1254.9 786.7 1256.2 C786.9 1257.4 780.6 1266.6 779.5 1266.9 C778.4 1267.3 766.3 1264.4 765.2 1263.3 C764.1 1262.3 757.5 1246.5 758.0 1245.4Z" fill="#fbd6a6" stroke="#fbd6a6" stroke-width="7" stroke-linejoin="round"/>
<path d="M725.8 1352.9 C726.5 1351.5 738.5 1342.4 740.1 1342.2 C741.7 1342.0 756.4 1349.2 758.0 1349.3 C759.6 1349.5 771.3 1345.0 772.4 1345.8 C773.4 1346.5 779.3 1361.9 779.5 1363.7 C779.7 1365.5 777.0 1380.3 775.9 1381.6 C774.9 1382.9 760.2 1389.6 758.0 1390.0 C755.9 1390.4 734.5 1391.0 732.9 1390.0 C731.3 1389.1 726.1 1372.7 725.8 1370.9 C725.4 1369.0 725.0 1354.4 725.8 1352.9Z" fill="#fbd6a6" stroke="#fbd6a6" stroke-width="7" stroke-linejoin="round"/>
<path d="M500.0 1259.8 C500.5 1258.0 509.9 1262.4 510.8 1263.3 C511.6 1264.2 517.9 1276.2 517.9 1277.7 C517.9 1279.1 511.6 1290.9 510.8 1292.0 C509.9 1293.1 500.5 1300.8 500.0 1299.2 C499.5 1297.6 499.5 1261.6 500.0 1259.8Z" fill="#fbd6a6" stroke="#fbd6a6" stroke-width="7" stroke-linejoin="round"/>
<path d="M750.9 1322.5 C751.2 1321.6 760.9 1320.1 761.6 1320.7 C762.3 1321.3 765.5 1334.1 765.2 1335.0 C764.8 1335.9 755.2 1339.2 754.4 1338.6 C753.7 1338.0 750.5 1323.4 750.9 1322.5Z" fill="#fbd6a6" stroke="#fbd6a6" stroke-width="7" stroke-linejoin="round"/>
<path d="M709.6 1234.7 C709.9 1234.0 722.9 1230.7 724.0 1231.1 C725.0 1231.4 731.4 1241.1 731.1 1241.8 C730.9 1242.6 719.7 1245.8 718.6 1245.4 C717.5 1245.1 709.4 1235.4 709.6 1234.7Z" fill="#fbd6a6" stroke="#fbd6a6" stroke-width="7" stroke-linejoin="round"/>
<path d="M366.6 1394.6 C368.2 1394.0 395.5 1392.3 398.2 1392.4 C400.9 1392.5 419.4 1396.0 420.7 1396.9 C422.1 1397.8 425.5 1409.3 425.2 1410.4 C425.0 1411.6 417.8 1418.9 416.2 1419.4 C414.6 1420.0 395.5 1422.0 393.7 1421.7 C391.8 1421.4 381.5 1413.5 380.1 1412.7 C378.8 1411.9 367.3 1406.8 366.6 1405.9 C365.9 1405.0 365.0 1395.3 366.6 1394.6Z" fill="#fbd6a6" stroke="#fbd6a6" stroke-width="7" stroke-linejoin="round"/>
<path d="M418.5 1424.0 C418.7 1422.9 429.0 1419.1 429.8 1419.4 C430.5 1419.8 434.5 1429.7 434.3 1430.7 C434.0 1431.7 426.0 1440.1 425.2 1439.8 C424.5 1439.4 418.2 1425.0 418.5 1424.0Z" fill="#fbd6a6" stroke="#fbd6a6" stroke-width="7" stroke-linejoin="round"/>
<path d="M515.5 1376.6 C515.7 1375.6 532.2 1371.6 533.5 1372.1 C534.9 1372.5 542.8 1384.6 542.6 1385.6 C542.3 1386.6 530.4 1392.8 529.0 1392.4 C527.7 1391.9 515.3 1377.6 515.5 1376.6Z" fill="#fbd6a6" stroke="#fbd6a6" stroke-width="7" stroke-linejoin="round"/>
<path d="M368.4 960.3 C369.3 957.8 372.5 957.7 373.8 959.4 C375.1 961.2 375.6 966.8 374.7 969.3 C373.8 971.8 370.6 973.8 369.3 972.0 C368.1 970.2 367.5 962.8 368.4 960.3Z" fill="#5fb6d9"/>
<path d="M363.1 978.3 C364.3 975.9 368.6 975.6 370.2 977.4 C371.8 979.2 372.4 984.9 371.1 987.2 C369.9 989.5 365.6 990.8 363.9 989.0 C362.3 987.2 361.8 980.6 363.1 978.3Z" fill="#5fb6d9"/>
<path d="M263.6 999.8 C264.3 997.7 269.6 996.8 271.7 997.1 C273.7 997.3 277.2 999.5 278.8 1001.6 C280.5 1003.6 284.7 1010.4 284.2 1012.3 C283.7 1014.2 277.6 1015.9 275.3 1015.9 C272.9 1015.9 267.8 1014.5 266.3 1012.3 C264.7 1010.2 262.9 1001.8 263.6 999.8Z" fill="#ec3b26" stroke="#ec3b26" stroke-width="2" stroke-linejoin="round"/>
<path d="M306.6 998.0 C306.9 996.9 310.9 993.7 312.0 993.5 C313.1 993.2 314.9 995.1 314.7 996.2 C314.4 997.3 311.3 1001.3 310.2 1001.6 C309.1 1001.8 306.4 999.0 306.6 998.0Z" fill="#ec3b26" stroke="#ec3b26" stroke-width="2" stroke-linejoin="round"/>
<path d="M320.1 998.0 C320.8 997.5 324.9 998.8 325.4 999.8 C325.9 1000.7 324.4 1004.7 323.6 1005.1 C322.9 1005.6 320.2 1004.3 319.7 1003.3 C319.2 1002.4 319.3 998.4 320.1 998.0Z" fill="#ec3b26" stroke="#ec3b26" stroke-width="2" stroke-linejoin="round"/>
<path d="M453.5 931.7 C453.7 930.4 457.8 929.8 458.9 930.8 C460.0 931.7 461.1 937.0 461.6 938.8 C462.1 940.6 463.0 944.0 462.5 944.2 C462.0 944.5 459.2 942.3 458.0 940.6 C456.8 939.0 453.4 933.0 453.5 931.7Z" fill="#ec3b26" stroke="#ec3b26" stroke-width="2" stroke-linejoin="round"/>
<path d="M406.1 1078.6 C409.2 1075.7 419.1 1072.1 422.2 1071.4 C425.3 1070.7 429.1 1070.6 429.3 1073.2 C429.6 1075.9 426.4 1087.1 424.0 1091.1 C421.6 1095.2 415.0 1101.3 411.4 1103.7 C407.8 1106.1 400.0 1108.6 397.1 1109.1 C394.2 1109.5 389.7 1109.4 389.9 1107.3 C390.2 1105.1 396.7 1096.8 398.9 1092.9 C401.0 1089.1 403.0 1081.5 406.1 1078.6Z" fill="#ec3b26" stroke="#ec3b26" stroke-width="2" stroke-linejoin="round"/>
<path d="M260.9 1073.2 C261.4 1072.3 266.7 1074.1 268.1 1075.0 C269.5 1076.0 272.1 1079.4 271.7 1080.4 C271.2 1081.3 265.9 1083.1 264.5 1082.2 C263.1 1081.2 260.4 1074.2 260.9 1073.2Z" fill="#ec3b26" stroke="#ec3b26" stroke-width="2" stroke-linejoin="round"/>
<path d="M241.2 1118.0 C244.3 1116.4 256.0 1116.4 259.1 1118.0 C262.2 1119.6 267.6 1128.4 264.5 1130.0 C261.4 1131.6 238.9 1131.6 235.8 1130.0 C232.7 1128.4 238.1 1119.6 241.2 1118.0Z" fill="#ec3b26" stroke="#ec3b26" stroke-width="2" stroke-linejoin="round"/>
<path d="M298.5 1092.9 C299.0 1092.0 303.7 1090.4 303.9 1091.1 C304.2 1091.9 301.1 1098.1 300.3 1098.3 C299.6 1098.5 298.1 1093.9 298.5 1092.9Z" fill="#ec3b26" stroke="#ec3b26" stroke-width="2" stroke-linejoin="round"/>
<path d="M552.0 967.5 C552.8 965.4 556.5 959.5 559.1 958.5 C561.8 957.6 568.6 959.6 571.7 960.3 C574.8 961.1 580.8 962.0 582.4 963.9 C584.1 965.8 585.2 972.8 584.2 974.7 C583.3 976.6 578.4 978.0 575.3 978.3 C572.1 978.5 563.9 976.9 560.9 976.5 C557.9 976.0 554.1 975.9 552.9 974.7 C551.7 973.5 551.1 969.7 552.0 967.5Z" fill="#ec3b26" stroke="#ec3b26" stroke-width="2" stroke-linejoin="round"/>
<path d="M582.4 980.1 C584.0 978.9 591.5 975.7 593.2 976.5 C594.8 977.2 595.2 982.8 595.0 985.4 C594.7 988.1 592.8 995.2 591.4 996.2 C589.9 997.1 585.5 994.0 584.2 992.6 C582.9 991.2 581.8 987.1 581.5 985.4 C581.3 983.8 580.9 981.2 582.4 980.1Z" fill="#ec3b26" stroke="#ec3b26" stroke-width="2" stroke-linejoin="round"/>
<path d="M559.1 929.9 C559.7 928.4 563.9 926.9 564.5 928.1 C565.1 929.3 564.2 937.4 563.6 938.8 C563.0 940.3 560.6 940.0 560.0 938.8 C559.4 937.6 558.5 931.3 559.1 929.9Z" fill="#ec3b26" stroke="#ec3b26" stroke-width="2" stroke-linejoin="round"/>
<path d="M684.6 1028.4 C686.0 1025.8 694.0 1020.9 697.1 1019.5 C700.2 1018.0 705.8 1016.5 707.8 1017.7 C709.9 1018.9 712.1 1024.6 712.3 1028.4 C712.6 1032.3 711.0 1042.5 709.6 1046.3 C708.3 1050.2 704.6 1054.7 702.5 1057.1 C700.3 1059.5 695.7 1062.4 693.5 1064.3 C691.4 1066.2 686.8 1068.6 686.3 1071.4 C685.9 1074.3 690.4 1083.4 689.9 1085.8 C689.5 1088.2 684.6 1090.8 682.8 1089.3 C681.0 1087.9 677.4 1078.8 676.5 1075.0 C675.5 1071.2 675.0 1064.0 675.6 1060.7 C676.2 1057.3 679.5 1052.8 681.0 1049.9 C682.4 1047.1 685.9 1042.0 686.3 1039.2 C686.8 1036.3 683.1 1031.1 684.6 1028.4Z" fill="#ec3b26" stroke="#ec3b26" stroke-width="2" stroke-linejoin="round"/>
<path d="M697.1 1107.3 C697.8 1105.8 705.9 1104.5 707.8 1105.5 C709.8 1106.4 712.1 1113.0 711.4 1114.4 C710.7 1115.9 704.4 1117.2 702.5 1116.2 C700.6 1115.3 696.4 1108.7 697.1 1107.3Z" fill="#ec3b26" stroke="#ec3b26" stroke-width="2" stroke-linejoin="round"/>
<path d="M347.7 1155.8 C348.2 1151.8 352.0 1142.6 354.8 1139.7 C357.7 1136.8 364.9 1135.5 369.2 1134.3 C373.5 1133.1 383.3 1131.5 387.1 1130.8 C390.9 1130.0 395.7 1126.1 397.8 1129.0 C400.0 1131.8 403.0 1146.8 403.2 1152.3 C403.5 1157.7 401.8 1166.3 399.6 1170.2 C397.5 1174.0 389.7 1177.6 387.1 1180.9 C384.5 1184.3 382.3 1193.6 379.9 1195.3 C377.5 1196.9 372.0 1195.4 369.2 1193.5 C366.3 1191.6 360.8 1184.0 358.4 1180.9 C356.0 1177.8 352.7 1173.5 351.3 1170.2 C349.8 1166.8 347.2 1159.9 347.7 1155.8Z" fill="#ec3b26" stroke="#ec3b26" stroke-width="2" stroke-linejoin="round"/>
<path d="M238.4 1127.2 C239.3 1124.3 246.0 1121.0 249.1 1120.0 C252.2 1119.0 259.8 1118.6 261.7 1120.0 C263.6 1121.4 264.9 1127.6 263.5 1130.8 C262.0 1133.9 253.8 1141.9 250.9 1143.3 C248.1 1144.7 243.6 1143.7 242.0 1141.5 C240.3 1139.4 237.4 1130.0 238.4 1127.2Z" fill="#ec3b26" stroke="#ec3b26" stroke-width="2" stroke-linejoin="round"/>
<path d="M268.8 1295.6 C270.8 1292.3 279.8 1284.4 283.2 1281.3 C286.5 1278.2 291.1 1273.3 293.9 1272.3 C296.8 1271.3 301.8 1272.9 304.7 1274.1 C307.5 1275.3 314.5 1278.9 315.4 1281.3 C316.4 1283.7 314.2 1290.1 311.8 1292.0 C309.5 1293.9 300.4 1293.7 297.5 1295.6 C294.6 1297.5 292.7 1304.4 290.3 1306.3 C288.0 1308.3 282.5 1309.9 279.6 1309.9 C276.7 1309.9 270.3 1308.3 268.8 1306.3 C267.4 1304.4 266.9 1298.9 268.8 1295.6Z" fill="#ec3b26" stroke="#ec3b26" stroke-width="2" stroke-linejoin="round"/>
<path d="M483.9 1263.3 C485.0 1262.6 489.8 1263.7 491.0 1265.1 C492.2 1266.6 493.5 1272.4 492.8 1274.1 C492.1 1275.8 487.1 1278.2 485.6 1277.7 C484.2 1277.2 482.3 1272.4 482.1 1270.5 C481.8 1268.6 482.7 1264.1 483.9 1263.3Z" fill="#ec3b26" stroke="#ec3b26" stroke-width="2" stroke-linejoin="round"/>
<path d="M455.2 1284.8 C457.0 1282.0 462.6 1278.2 465.9 1277.7 C469.3 1277.2 477.2 1279.1 480.3 1281.3 C483.4 1283.4 487.8 1290.2 489.2 1293.8 C490.7 1297.4 491.7 1304.8 491.0 1308.1 C490.3 1311.5 486.7 1317.2 483.9 1318.9 C481.0 1320.6 473.1 1321.6 469.5 1320.7 C465.9 1319.7 459.2 1314.6 457.0 1311.7 C454.7 1308.9 452.7 1302.8 452.5 1299.2 C452.3 1295.6 453.4 1287.7 455.2 1284.8Z" fill="#ec3b26" stroke="#ec3b26" stroke-width="2" stroke-linejoin="round"/>
<path d="M471.3 1170.2 C472.4 1169.0 477.0 1167.4 478.5 1168.4 C479.9 1169.3 482.5 1175.4 482.1 1177.3 C481.6 1179.2 476.4 1182.7 474.9 1182.7 C473.3 1182.7 470.9 1179.0 470.4 1177.3 C469.9 1175.7 470.2 1171.4 471.3 1170.2Z" fill="#ec3b26" stroke="#ec3b26" stroke-width="2" stroke-linejoin="round"/>
<path d="M440.9 1129.0 C441.3 1127.9 445.3 1126.5 446.2 1127.2 C447.2 1127.9 448.5 1133.3 448.0 1134.3 C447.5 1135.4 443.6 1135.9 442.6 1135.2 C441.7 1134.5 440.4 1130.0 440.9 1129.0Z" fill="#ec3b26" stroke="#ec3b26" stroke-width="2" stroke-linejoin="round"/>
<path d="M516.1 1191.7 C517.3 1188.8 524.2 1185.0 526.9 1184.5 C529.5 1184.0 533.2 1185.7 535.8 1188.1 C538.5 1190.5 545.6 1198.8 546.6 1202.4 C547.5 1206.0 545.6 1213.1 543.0 1215.0 C540.4 1216.9 530.2 1218.0 526.9 1216.8 C523.5 1215.6 519.4 1209.4 517.9 1206.0 C516.5 1202.7 514.9 1194.5 516.1 1191.7Z" fill="#ec3b26" stroke="#ec3b26" stroke-width="2" stroke-linejoin="round"/>
<path d="M559.1 1243.6 C560.7 1242.2 567.3 1240.9 569.9 1241.8 C572.5 1242.8 578.1 1248.2 578.8 1250.8 C579.6 1253.4 577.4 1260.1 575.3 1261.6 C573.1 1263.0 565.0 1262.7 562.7 1261.6 C560.4 1260.4 558.7 1255.0 558.2 1252.6 C557.8 1250.2 557.6 1245.1 559.1 1243.6Z" fill="#ec3b26" stroke="#ec3b26" stroke-width="2" stroke-linejoin="round"/>
<path d="M540.3 1252.6 C540.1 1250.4 545.9 1249.4 548.4 1250.8 C550.9 1252.2 556.0 1260.2 559.1 1263.3 C562.2 1266.4 569.5 1271.7 571.7 1274.1 C573.8 1276.5 575.5 1278.9 575.3 1281.3 C575.0 1283.7 571.8 1292.0 569.9 1292.0 C568.0 1292.0 563.5 1284.6 560.9 1281.3 C558.3 1277.9 552.9 1270.7 550.2 1266.9 C547.4 1263.1 540.6 1254.7 540.3 1252.6Z" fill="#ec3b26" stroke="#ec3b26" stroke-width="2" stroke-linejoin="round"/>
<path d="M587.8 1275.9 C588.8 1272.1 596.5 1268.4 600.3 1266.9 C604.2 1265.5 613.1 1264.4 616.5 1265.1 C619.8 1265.9 623.5 1269.2 625.4 1272.3 C627.3 1275.4 630.8 1283.9 630.8 1288.4 C630.8 1293.0 627.6 1302.8 625.4 1306.3 C623.3 1309.9 618.0 1314.1 614.7 1315.3 C611.3 1316.5 603.2 1317.9 600.3 1315.3 C597.5 1312.7 594.8 1300.9 593.2 1295.6 C591.5 1290.3 586.8 1279.7 587.8 1275.9Z" fill="#ec3b26" stroke="#ec3b26" stroke-width="2" stroke-linejoin="round"/>
<path d="M536.7 1317.1 C537.8 1314.1 544.4 1313.7 546.6 1314.4 C548.7 1315.1 552.6 1319.7 552.9 1322.5 C553.1 1325.2 550.3 1333.1 548.4 1335.0 C546.5 1336.9 540.1 1339.2 538.5 1336.8 C537.0 1334.4 535.7 1320.1 536.7 1317.1Z" fill="#ec3b26" stroke="#ec3b26" stroke-width="2" stroke-linejoin="round"/>
<path d="M623.6 1318.9 C624.7 1317.2 630.8 1316.1 632.6 1317.1 C634.4 1318.1 637.1 1324.0 637.1 1326.1 C637.1 1328.1 634.3 1331.8 632.6 1332.3 C630.9 1332.8 625.7 1331.4 624.5 1329.6 C623.3 1327.8 622.6 1320.6 623.6 1318.9Z" fill="#ec3b26" stroke="#ec3b26" stroke-width="2" stroke-linejoin="round"/>
<path d="M648.7 1313.5 C650.2 1311.4 654.6 1308.0 657.7 1306.3 C660.8 1304.7 668.4 1301.0 672.0 1301.0 C675.6 1301.0 682.2 1304.2 684.6 1306.3 C686.9 1308.5 689.7 1313.8 689.9 1317.1 C690.2 1320.4 688.3 1328.3 686.3 1331.4 C684.4 1334.5 678.7 1338.7 675.6 1340.4 C672.5 1342.1 666.2 1344.9 663.1 1344.0 C659.9 1343.0 654.5 1336.1 652.3 1333.2 C650.2 1330.4 647.4 1325.1 646.9 1322.5 C646.4 1319.8 647.3 1315.7 648.7 1313.5Z" fill="#ec3b26" stroke="#ec3b26" stroke-width="2" stroke-linejoin="round"/>
<path d="M648.7 1220.3 C649.7 1219.1 657.7 1219.6 661.3 1220.3 C664.8 1221.1 672.0 1223.8 675.6 1225.7 C679.2 1227.6 687.7 1232.5 688.1 1234.7 C688.6 1236.8 682.3 1241.4 679.2 1241.8 C676.1 1242.3 668.2 1239.9 664.8 1238.3 C661.5 1236.6 656.2 1231.7 654.1 1229.3 C651.9 1226.9 647.8 1221.5 648.7 1220.3Z" fill="#ec3b26" stroke="#ec3b26" stroke-width="2" stroke-linejoin="round"/>
<path d="M630.8 1173.8 C631.8 1172.3 641.2 1167.9 643.3 1168.4 C645.5 1168.9 647.9 1175.9 646.9 1177.3 C646.0 1178.8 638.3 1179.6 636.2 1179.1 C634.0 1178.7 629.8 1175.2 630.8 1173.8Z" fill="#ec3b26" stroke="#ec3b26" stroke-width="2" stroke-linejoin="round"/>
<path d="M646.9 1180.9 C648.1 1180.0 659.4 1177.1 661.3 1177.3 C663.2 1177.6 662.5 1181.8 661.3 1182.7 C660.1 1183.7 654.2 1184.7 652.3 1184.5 C650.4 1184.3 645.7 1181.9 646.9 1180.9Z" fill="#ec3b26" stroke="#ec3b26" stroke-width="2" stroke-linejoin="round"/>
<path d="M684.6 1159.4 C685.7 1157.7 695.1 1154.9 697.1 1155.8 C699.1 1156.8 701.0 1164.9 699.8 1166.6 C698.6 1168.3 690.2 1169.3 688.1 1168.4 C686.1 1167.4 683.4 1161.1 684.6 1159.4Z" fill="#ec3b26" stroke="#ec3b26" stroke-width="2" stroke-linejoin="round"/>
<path d="M719.5 1163.0 C720.5 1159.9 729.1 1159.3 731.1 1157.6 C733.2 1156.0 733.5 1149.7 734.7 1150.5 C735.9 1151.2 738.2 1161.1 740.1 1163.0 C742.0 1164.9 749.3 1163.4 749.1 1164.8 C748.8 1166.2 741.7 1171.6 738.3 1173.8 C735.0 1175.9 726.5 1182.4 724.0 1180.9 C721.5 1179.5 718.5 1166.1 719.5 1163.0Z" fill="#ec3b26" stroke="#ec3b26" stroke-width="2" stroke-linejoin="round"/>
<path d="M720.4 1146.9 C719.7 1145.4 723.9 1138.9 725.8 1137.9 C727.7 1137.0 734.0 1138.3 734.7 1139.7 C735.4 1141.1 733.1 1147.7 731.1 1148.7 C729.2 1149.6 721.1 1148.3 720.4 1146.9Z" fill="#ec3b26" stroke="#ec3b26" stroke-width="2" stroke-linejoin="round"/>
<path d="M755.3 1297.4 C756.2 1295.8 761.7 1293.3 762.5 1294.7 C763.3 1296.1 762.4 1306.6 761.6 1308.1 C760.8 1309.7 757.1 1307.8 756.2 1306.3 C755.4 1304.9 754.5 1298.9 755.3 1297.4Z" fill="#ec3b26" stroke="#ec3b26" stroke-width="2" stroke-linejoin="round"/>
<path d="M377.9 1410.4 C379.2 1408.9 386.7 1407.3 389.1 1408.2 C391.5 1409.1 396.2 1415.1 395.9 1417.2 C395.6 1419.3 389.1 1423.7 386.9 1424.0 C384.6 1424.3 380.2 1421.3 379.0 1419.4 C377.8 1417.6 376.5 1411.9 377.9 1410.4Z" fill="#ec3b26" stroke="#ec3b26" stroke-width="2" stroke-linejoin="round"/>
<path d="M420.7 1437.5 C421.3 1435.4 429.8 1432.4 432.0 1433.0 C434.3 1433.6 438.2 1439.9 437.6 1442.0 C437.0 1444.1 429.8 1449.4 427.5 1448.8 C425.2 1448.2 420.1 1439.6 420.7 1437.5Z" fill="#ec3b26" stroke="#ec3b26" stroke-width="2" stroke-linejoin="round"/>
<path d="M601.0 968.0 C598.5 976.2 596.2 985.0 597.0 992.0 C597.8 999.0 601.2 1004.7 606.0 1010.0 C610.8 1015.3 619.7 1024.0 626.0 1024.0 C632.3 1024.0 638.7 1013.8 644.0 1010.0 C649.3 1006.2 655.0 1006.7 658.0 1001.0 C661.0 995.3 662.3 983.2 662.0 976.0 C661.7 968.8 660.3 962.0 656.0 958.0 C651.7 954.0 643.3 954.5 636.0 952.0 C628.7 949.5 617.8 940.3 612.0 943.0 C606.2 945.7 603.5 959.8 601.0 968.0Z" fill="#0a0a0a"/>
<path d="M681.0 1050.0 C682.7 1045.0 687.8 1044.0 690.0 1046.0 C692.2 1048.0 694.3 1055.7 694.0 1062.0 C693.7 1068.3 690.3 1081.7 688.0 1084.0 C685.7 1086.3 681.2 1081.7 680.0 1076.0 C678.8 1070.3 679.3 1055.0 681.0 1050.0Z" fill="#050505"/>
<path d="M270.0 1000.0 C271.3 1005.3 276.0 1029.3 280.0 1040.0 C284.0 1050.7 293.3 1069.3 300.0 1080.0 C306.7 1090.7 323.3 1110.7 330.0 1120.0 C336.7 1129.3 348.0 1140.7 350.0 1150.0 C352.0 1159.3 346.3 1179.3 345.0 1190.0 C343.7 1200.7 340.0 1218.0 340.0 1230.0 C340.0 1242.0 341.0 1270.7 345.0 1280.0 C349.0 1289.3 362.7 1295.3 370.0 1300.0 C377.3 1304.7 391.3 1309.7 400.0 1315.0 C408.7 1320.3 430.3 1336.7 435.0 1340.0" fill="none" stroke="#050505" stroke-width="1.5" stroke-linejoin="round"/>
<path d="M490.0 955.0 C492.0 955.7 501.0 956.7 505.0 960.0 C509.0 963.3 518.7 975.3 520.0 980.0 C521.3 984.7 515.7 993.0 515.0 995.0" fill="none" stroke="#050505" stroke-width="1.5" stroke-linejoin="round"/>
<path d="M510.0 1060.0 C512.7 1056.0 523.3 1036.0 530.0 1030.0 C536.7 1024.0 552.0 1016.3 560.0 1015.0 C568.0 1013.7 584.0 1016.7 590.0 1020.0 C596.0 1023.3 603.7 1032.0 605.0 1040.0 C606.3 1048.0 603.3 1070.7 600.0 1080.0 C596.7 1089.3 588.0 1104.7 580.0 1110.0 C572.0 1115.3 548.7 1120.7 540.0 1120.0 C531.3 1119.3 519.0 1113.0 515.0 1105.0 C511.0 1097.0 510.7 1066.0 510.0 1060.0" fill="none" stroke="#050505" stroke-width="1.5" stroke-linejoin="round"/>
<path d="M530.0 1030.0 C532.0 1027.3 537.0 1013.3 545.0 1010.0 C553.0 1006.7 580.0 1003.7 590.0 1005.0 C600.0 1006.3 616.0 1018.0 620.0 1020.0" fill="none" stroke="#050505" stroke-width="1.5" stroke-linejoin="round"/>
<path d="M580.0 1110.0 C578.7 1114.0 575.3 1133.3 570.0 1140.0 C564.7 1146.7 546.7 1155.3 540.0 1160.0 C533.3 1164.7 527.3 1169.7 520.0 1175.0 C512.7 1180.3 491.7 1194.0 485.0 1200.0 C478.3 1206.0 472.0 1217.3 470.0 1220.0" fill="none" stroke="#050505" stroke-width="1.5" stroke-linejoin="round"/>
<path d="M400.0 1191.0 C404.0 1189.5 423.3 1182.1 430.0 1180.0 C436.7 1177.9 447.3 1175.7 450.0 1175.0" fill="none" stroke="#050505" stroke-width="1.5" stroke-linejoin="round"/>
<path d="M270.0 1210.0 C272.7 1214.0 286.0 1232.0 290.0 1240.0 C294.0 1248.0 296.0 1262.0 300.0 1270.0 C304.0 1278.0 313.3 1294.7 320.0 1300.0 C326.7 1305.3 346.0 1308.7 350.0 1310.0" fill="none" stroke="#050505" stroke-width="1.5" stroke-linejoin="round"/>
<path d="M455.0 1240.0 C458.3 1241.3 472.7 1246.0 480.0 1250.0 C487.3 1254.0 504.7 1264.7 510.0 1270.0 C515.3 1275.3 521.3 1284.0 520.0 1290.0 C518.7 1296.0 506.0 1310.3 500.0 1315.0 C494.0 1319.7 478.3 1323.7 475.0 1325.0" fill="none" stroke="#050505" stroke-width="1.5" stroke-linejoin="round"/>
<path d="M600.0 1315.0 C604.0 1313.0 620.7 1307.3 630.0 1300.0 C639.3 1292.7 662.0 1266.7 670.0 1260.0 C678.0 1253.3 687.3 1251.3 690.0 1250.0" fill="none" stroke="#050505" stroke-width="1.5" stroke-linejoin="round"/>
<path d="M600.0 1315.0 C602.7 1318.3 616.7 1334.0 620.0 1340.0 C623.3 1346.0 624.3 1357.3 625.0 1360.0" fill="none" stroke="#050505" stroke-width="1.5" stroke-linejoin="round"/>
<path d="M345.0 1280.0 C347.0 1284.0 355.3 1304.7 360.0 1310.0 C364.7 1315.3 377.3 1318.7 380.0 1320.0" fill="none" stroke="#050505" stroke-width="1.5" stroke-linejoin="round"/>
<path d="M235.0 1040.0 C237.0 1044.0 245.3 1063.3 250.0 1070.0 C254.7 1076.7 266.0 1083.3 270.0 1090.0 C274.0 1096.7 278.7 1116.0 280.0 1120.0" fill="none" stroke="#050505" stroke-width="1.5" stroke-linejoin="round"/>
<path d="M500.0 1325.0 C501.3 1328.3 510.0 1342.7 510.0 1350.0 C510.0 1357.3 501.3 1376.0 500.0 1380.0" fill="none" stroke="#050505" stroke-width="1.5" stroke-linejoin="round"/>
<path d="M284.2 996.2 C284.8 996.9 288.0 1002.1 289.6 1003.3 C291.2 1004.6 298.2 1008.9 300.3 1008.7 C302.5 1008.5 308.6 1003.5 311.1 1001.6 C313.6 999.6 322.6 991.3 325.4 989.0 C328.3 986.7 337.4 980.2 339.8 978.3 C342.1 976.3 347.8 970.2 348.7 969.3" fill="none" stroke="#050505" stroke-width="5.5" stroke-linejoin="round"/>
<path d="M265.3 1227.5 C266.7 1227.9 277.1 1229.3 279.6 1231.1 C282.1 1232.9 288.9 1242.2 290.3 1245.4 C291.8 1248.7 292.5 1260.7 293.9 1263.3 C295.4 1266.0 303.6 1270.2 304.7 1272.3 C305.7 1274.5 303.6 1282.9 304.7 1284.8 C305.7 1286.8 313.6 1290.2 315.4 1292.0 C317.2 1293.8 322.6 1300.6 322.6 1302.8 C322.6 1304.9 316.1 1312.4 315.4 1313.5" fill="none" stroke="#050505" stroke-width="5" stroke-linejoin="round"/>
</g></g>
<g clip-path="url(#clipC)"><rect x="190" y="860" width="640" height="610" filter="url(#fCrack)" opacity="0.85"/>
<rect x="190" y="860" width="640" height="610" filter="url(#fCrack2)" opacity="0.75"/></g>
<rect x="638.6" y="1001.9" width="2.5" height="2.5" fill="#ddd"/>
<rect x="652.1" y="1004.3" width="1.3" height="1.3" fill="#ddd"/>
<rect x="655.9" y="957.9" width="1.8" height="1.8" fill="#999"/>
<rect x="623.6" y="957.1" width="1.3" height="1.3" fill="#999"/>
<rect x="625.3" y="962.7" width="2.7" height="2.7" fill="#fff"/>
<rect x="609.9" y="1005.8" width="1.1" height="1.1" fill="#fff"/>
<rect x="607.9" y="950.1" width="2.7" height="2.7" fill="#999"/>
<rect x="648.0" y="1017.2" width="1.2" height="1.2" fill="#999"/>
<rect x="617.9" y="1017.3" width="2.0" height="2.0" fill="#999"/>
<rect x="611.3" y="1017.8" width="1.2" height="1.2" fill="#fff"/>
<rect x="618.5" y="975.3" width="1.2" height="1.2" fill="#999"/>
<rect x="616.4" y="973.2" width="2.6" height="2.6" fill="#ddd"/>
<rect x="637.0" y="999.5" width="0.9" height="0.9" fill="#bbb"/>
<rect x="650.7" y="983.7" width="1.5" height="1.5" fill="#fff"/>
<rect x="629.3" y="962.3" width="1.4" height="1.4" fill="#ddd"/>
<rect x="658.9" y="975.0" width="1.7" height="1.7" fill="#fff"/>
<rect x="622.7" y="990.5" width="0.8" height="0.8" fill="#ddd"/>
<rect x="643.9" y="993.7" width="2.9" height="2.9" fill="#ddd"/>
<rect x="646.9" y="1015.1" width="2.9" height="2.9" fill="#bbb"/>
<rect x="631.8" y="1012.5" width="1.4" height="1.4" fill="#fff"/>
<rect x="606.7" y="1002.4" width="2.6" height="2.6" fill="#bbb"/>
<rect x="602.3" y="1016.2" width="1.0" height="1.0" fill="#bbb"/>
<rect x="631.8" y="975.4" width="1.1" height="1.1" fill="#bbb"/>
<rect x="657.3" y="988.2" width="1.5" height="1.5" fill="#bbb"/>
<rect x="619.0" y="1005.9" width="2.2" height="2.2" fill="#bbb"/>
<rect x="661.8" y="961.3" width="0.9" height="0.9" fill="#fff"/>
<rect x="602.0" y="1001.8" width="1.6" height="1.6" fill="#bbb"/>
<rect x="628.3" y="979.5" width="0.9" height="0.9" fill="#ddd"/>
<rect x="649.7" y="973.4" width="1.3" height="1.3" fill="#999"/>
<rect x="639.1" y="1005.2" width="1.0" height="1.0" fill="#fff"/>
<rect x="623.1" y="954.1" width="1.7" height="1.7" fill="#999"/>
<rect x="628.1" y="1020.0" width="2.7" height="2.7" fill="#fff"/>
<rect x="659.5" y="998.2" width="1.5" height="1.5" fill="#bbb"/>
<rect x="618.0" y="978.3" width="1.1" height="1.1" fill="#fff"/>
<rect x="651.0" y="987.2" width="1.2" height="1.2" fill="#fff"/>
<rect x="653.8" y="962.6" width="1.9" height="1.9" fill="#bbb"/>
<rect x="603.9" y="1005.7" width="1.6" height="1.6" fill="#ddd"/>
<rect x="647.1" y="975.4" width="2.3" height="2.3" fill="#bbb"/>
<rect x="651.8" y="968.5" width="3.0" height="3.0" fill="#bbb"/>
<rect x="659.3" y="973.8" width="1.2" height="1.2" fill="#ddd"/>
<rect x="266" y="1356" width="62" height="34" fill="#000" opacity="0.45"/>
<rect x="238" y="1390" width="122" height="30" fill="#000" opacity="0.45"/>
<text x="550.44" y="1092.8" font-size="28.00" fill="#fff600" font-weight="normal" textLength="28.48" lengthAdjust="spacingAndGlyphs" >Pl</text>
<text x="362.63" y="1169.0" font-size="28.00" fill="#fff600" font-weight="normal" textLength="30.34" lengthAdjust="spacingAndGlyphs" >Ol</text>
<text x="596.63" y="1299.0" font-size="28.00" fill="#fff600" font-weight="normal" textLength="30.34" lengthAdjust="spacingAndGlyphs" >Ol</text>
<text x="271.69" y="1380.0" font-size="28.00" fill="#fff600" font-weight="normal" textLength="53.37" lengthAdjust="spacingAndGlyphs" >Opx</text>
<text x="240.74" y="1411.6" font-size="28.00" fill="#fff600" font-weight="normal" textLength="117.47" lengthAdjust="spacingAndGlyphs" >(Mg# 83)</text>
<line x1="335.0" y1="1376.6" x2="383.8" y2="1348.6" stroke="#fff600" stroke-width="2.2"/><polygon points="395.9,1341.6 381.9,1359.3 382.9,1349.1 373.5,1344.8" fill="#fff600"/>
<rect x="44" y="1467" width="156" height="5" fill="#fff"/>
<text x="71.93" y="1454.0" font-size="27.50" fill="#fff" font-weight="normal" textLength="98.65" lengthAdjust="spacingAndGlyphs" >200 μm</text>
<rect x="10.5" y="837.7" width="213.9" height="188.8" fill="#000" stroke="#e6e6e6" stroke-width="1.8"/>
<polygon points="105.9,1002.8 111.5,999.3 125.4,1000.0 139.4,1004.2 150.5,1009.1 160.3,1005.6 174.2,1000.7 181.2,1002.8 195.1,1004.2 203.5,1014.0 213.2,1025.1 103.1,1025.1 107.3,1014.0" fill="#818181"/>
<path d="M113.6 851.6 C115.3 851.9 117.2 856.6 119.9 857.9 C122.6 859.2 130.3 860.5 133.8 861.4 C137.3 862.2 143.2 863.5 146.3 864.1 C149.5 864.8 157.3 865.2 157.5 866.2 C157.7 867.3 148.3 870.3 147.7 871.8 C147.2 873.3 152.8 875.3 153.3 877.4 C153.8 879.4 150.7 884.7 151.2 887.1 C151.8 889.6 155.5 894.9 157.5 895.5 C159.4 896.1 164.3 893.0 165.9 891.3 C167.4 889.7 168.8 884.8 169.3 883.0 C169.9 881.1 169.4 877.8 170.0 877.4 C170.7 877.0 173.7 878.5 174.2 880.2 C174.8 881.8 173.5 887.3 174.2 889.9 C175.0 892.5 178.9 897.3 179.8 899.7 C180.7 902.1 181.6 906.0 181.2 908.0 C180.8 910.1 176.6 912.4 177.0 915.0 C177.4 917.6 182.1 924.0 184.0 927.6 C185.8 931.1 189.5 937.8 190.9 941.5 C192.4 945.2 193.6 951.7 195.1 955.4 C196.6 959.2 200.8 966.2 202.1 969.4 C203.4 972.5 205.4 977.3 204.9 979.1 C204.3 981.0 198.8 980.9 197.9 983.3 C197.0 985.7 198.3 994.5 197.9 997.2 C197.5 1000.0 197.4 1003.5 195.1 1004.2 C192.9 1005.0 184.0 1003.3 181.2 1002.8 C178.4 1002.4 177.0 1000.4 174.2 1000.7 C171.4 1001.1 163.4 1004.5 160.3 1005.6 C157.1 1006.7 153.3 1009.3 150.5 1009.1 C147.7 1008.9 142.7 1005.4 139.4 1004.2 C136.0 1003.0 129.2 1000.7 125.4 1000.0 C121.7 999.4 114.1 999.0 111.5 999.3 C108.9 999.7 107.2 1003.3 105.9 1002.8 C104.6 1002.4 102.8 996.7 101.7 995.9 C100.7 995.0 98.5 994.9 98.3 996.6 C98.0 998.2 100.1 1005.9 99.7 1008.4 C99.2 1010.9 96.2 1015.2 94.8 1015.4 C93.4 1015.6 91.1 1011.3 89.2 1009.8 C87.3 1008.3 82.9 1005.9 80.8 1004.2 C78.8 1002.5 75.7 999.7 73.9 997.2 C72.0 994.8 68.8 988.7 66.9 986.1 C65.0 983.5 62.3 978.1 59.9 977.7 C57.5 977.4 49.0 981.1 48.8 983.3 C48.6 985.5 58.7 991.5 58.5 994.5 C58.4 997.4 49.8 1004.7 47.4 1005.6 C45.0 1006.5 42.2 1003.1 40.4 1001.4 C38.7 999.8 34.7 995.5 34.1 993.1 C33.6 990.7 36.8 986.5 36.2 983.3 C35.7 980.2 30.3 972.5 30.0 969.4 C29.6 966.2 32.4 962.4 33.4 959.6 C34.5 956.8 37.1 952.7 37.6 948.5 C38.2 944.2 36.9 932.2 37.6 927.6 C38.4 922.9 41.5 917.0 43.2 913.6 C44.9 910.3 49.2 905.6 50.2 902.5 C51.1 899.3 50.7 892.7 50.2 889.9 C49.6 887.1 45.8 883.2 46.0 881.6 C46.2 879.9 50.7 879.2 51.6 877.4 C52.4 875.6 51.1 869.4 52.3 868.3 C53.4 867.2 57.6 869.5 59.9 869.0 C62.3 868.6 66.5 865.6 69.7 864.8 C72.8 864.1 79.9 864.3 83.6 863.4 C87.3 862.6 94.4 859.6 97.6 858.6 C100.7 857.5 105.2 856.7 107.3 855.8 C109.5 854.9 111.9 851.3 113.6 851.6Z" fill="#808080" stroke="#f6f6f6" stroke-width="2.2" stroke-linejoin="round"/>
<g clip-path="url(#clipIns)"><rect x="20" y="845" width="200" height="180" fill="#929292" filter="url(#fIns)"/></g>
<clipPath id="clipIns"><path d="M113.6 851.6 C115.3 851.9 117.2 856.6 119.9 857.9 C122.6 859.2 130.3 860.5 133.8 861.4 C137.3 862.2 143.2 863.5 146.3 864.1 C149.5 864.8 157.3 865.2 157.5 866.2 C157.7 867.3 148.3 870.3 147.7 871.8 C147.2 873.3 152.8 875.3 153.3 877.4 C153.8 879.4 150.7 884.7 151.2 887.1 C151.8 889.6 155.5 894.9 157.5 895.5 C159.4 896.1 164.3 893.0 165.9 891.3 C167.4 889.7 168.8 884.8 169.3 883.0 C169.9 881.1 169.4 877.8 170.0 877.4 C170.7 877.0 173.7 878.5 174.2 880.2 C174.8 881.8 173.5 887.3 174.2 889.9 C175.0 892.5 178.9 897.3 179.8 899.7 C180.7 902.1 181.6 906.0 181.2 908.0 C180.8 910.1 176.6 912.4 177.0 915.0 C177.4 917.6 182.1 924.0 184.0 927.6 C185.8 931.1 189.5 937.8 190.9 941.5 C192.4 945.2 193.6 951.7 195.1 955.4 C196.6 959.2 200.8 966.2 202.1 969.4 C203.4 972.5 205.4 977.3 204.9 979.1 C204.3 981.0 198.8 980.9 197.9 983.3 C197.0 985.7 198.3 994.5 197.9 997.2 C197.5 1000.0 197.4 1003.5 195.1 1004.2 C192.9 1005.0 184.0 1003.3 181.2 1002.8 C178.4 1002.4 177.0 1000.4 174.2 1000.7 C171.4 1001.1 163.4 1004.5 160.3 1005.6 C157.1 1006.7 153.3 1009.3 150.5 1009.1 C147.7 1008.9 142.7 1005.4 139.4 1004.2 C136.0 1003.0 129.2 1000.7 125.4 1000.0 C121.7 999.4 114.1 999.0 111.5 999.3 C108.9 999.7 107.2 1003.3 105.9 1002.8 C104.6 1002.4 102.8 996.7 101.7 995.9 C100.7 995.0 98.5 994.9 98.3 996.6 C98.0 998.2 100.1 1005.9 99.7 1008.4 C99.2 1010.9 96.2 1015.2 94.8 1015.4 C93.4 1015.6 91.1 1011.3 89.2 1009.8 C87.3 1008.3 82.9 1005.9 80.8 1004.2 C78.8 1002.5 75.7 999.7 73.9 997.2 C72.0 994.8 68.8 988.7 66.9 986.1 C65.0 983.5 62.3 978.1 59.9 977.7 C57.5 977.4 49.0 981.1 48.8 983.3 C48.6 985.5 58.7 991.5 58.5 994.5 C58.4 997.4 49.8 1004.7 47.4 1005.6 C45.0 1006.5 42.2 1003.1 40.4 1001.4 C38.7 999.8 34.7 995.5 34.1 993.1 C33.6 990.7 36.8 986.5 36.2 983.3 C35.7 980.2 30.3 972.5 30.0 969.4 C29.6 966.2 32.4 962.4 33.4 959.6 C34.5 956.8 37.1 952.7 37.6 948.5 C38.2 944.2 36.9 932.2 37.6 927.6 C38.4 922.9 41.5 917.0 43.2 913.6 C44.9 910.3 49.2 905.6 50.2 902.5 C51.1 899.3 50.7 892.7 50.2 889.9 C49.6 887.1 45.8 883.2 46.0 881.6 C46.2 879.9 50.7 879.2 51.6 877.4 C52.4 875.6 51.1 869.4 52.3 868.3 C53.4 867.2 57.6 869.5 59.9 869.0 C62.3 868.6 66.5 865.6 69.7 864.8 C72.8 864.1 79.9 864.3 83.6 863.4 C87.3 862.6 94.4 859.6 97.6 858.6 C100.7 857.5 105.2 856.7 107.3 855.8 C109.5 854.9 111.9 851.3 113.6 851.6Z"/></clipPath>
<path d="M153.3 878.8 C154.5 877.2 158.2 876.7 160.3 877.4 C162.4 878.1 165.2 880.9 165.9 883.0 C166.6 885.1 165.6 888.3 164.5 889.9 C163.3 891.6 160.7 893.2 158.9 892.7 C157.0 892.3 154.2 889.5 153.3 887.1 C152.4 884.8 152.1 880.4 153.3 878.8Z" fill="#030303"/></g>
<g id="pd"><line x1="1070" y1="1039.9" x2="1820" y2="1039.9" stroke="#b0b0b0" stroke-width="1.8" stroke-dasharray="12 9.6"/>
<line x1="1070" y1="1325.2" x2="1820" y2="1325.2" stroke="#b0b0b0" stroke-width="1.8" stroke-dasharray="12 9.6"/>
<path d="M1057 849.8H1068.6V1431.8M1057 1420H1819.9V1431.8" fill="none" stroke="#000" stroke-width="2.5"/>
<line x1="1057" y1="1325.0" x2="1068.6" y2="1325.0" stroke="#000" stroke-width="2.5"/>
<line x1="1057" y1="1230.0" x2="1068.6" y2="1230.0" stroke="#000" stroke-width="2.5"/>
<line x1="1057" y1="1134.9" x2="1068.6" y2="1134.9" stroke="#000" stroke-width="2.5"/>
<line x1="1057" y1="1039.9" x2="1068.6" y2="1039.9" stroke="#000" stroke-width="2.5"/>
<line x1="1057" y1="944.9" x2="1068.6" y2="944.9" stroke="#000" stroke-width="2.5"/>
<line x1="1256.3" y1="1420" x2="1256.3" y2="1431.8" stroke="#000" stroke-width="2.5"/>
<line x1="1444.2" y1="1420" x2="1444.2" y2="1431.8" stroke="#000" stroke-width="2.5"/>
<line x1="1632.1" y1="1420" x2="1632.1" y2="1431.8" stroke="#000" stroke-width="2.5"/>
<text x="1022.85" y="1430.4" font-size="28.00" fill="#000" font-weight="normal" textLength="17.38" lengthAdjust="spacingAndGlyphs" >0</text>
<text x="1022.84" y="1335.4" font-size="28.00" fill="#000" font-weight="normal" textLength="17.56" lengthAdjust="spacingAndGlyphs" >5</text>
<text x="1014.00" y="1240.4" font-size="28.00" fill="#000" font-weight="normal" textLength="34.04" lengthAdjust="spacingAndGlyphs" >10</text>
<text x="1013.99" y="1145.3" font-size="28.00" fill="#000" font-weight="normal" textLength="34.21" lengthAdjust="spacingAndGlyphs" >15</text>
<text x="1014.81" y="1050.3" font-size="28.00" fill="#000" font-weight="normal" textLength="33.21" lengthAdjust="spacingAndGlyphs" >20</text>
<text x="1014.80" y="955.3" font-size="28.00" fill="#000" font-weight="normal" textLength="33.37" lengthAdjust="spacingAndGlyphs" >25</text>
<text x="1015.12" y="860.2" font-size="28.00" fill="#000" font-weight="normal" textLength="32.89" lengthAdjust="spacingAndGlyphs" >30</text>
<text x="1051.70" y="1464.6" font-size="28.00" fill="#000" font-weight="normal" textLength="33.32" lengthAdjust="spacingAndGlyphs" >50</text>
<text x="1239.29" y="1464.6" font-size="28.00" fill="#000" font-weight="normal" textLength="33.64" lengthAdjust="spacingAndGlyphs" >60</text>
<text x="1427.19" y="1464.6" font-size="28.00" fill="#000" font-weight="normal" textLength="33.64" lengthAdjust="spacingAndGlyphs" >70</text>
<text x="1615.25" y="1464.6" font-size="28.00" fill="#000" font-weight="normal" textLength="33.48" lengthAdjust="spacingAndGlyphs" >80</text>
<text x="1803.15" y="1464.6" font-size="28.00" fill="#000" font-weight="normal" textLength="33.48" lengthAdjust="spacingAndGlyphs" >90</text>
<text x="1339.15" y="1497.0" font-size="28.00" fill="#000" font-weight="normal" textLength="220.65" lengthAdjust="spacingAndGlyphs" >Mg# in Pyroxene</text>
<text transform="translate(989,1322.6) rotate(-90)" font-size="28" fill="#000" textLength="374.0" lengthAdjust="spacingAndGlyphs">Wollastonite (%) in Pyroxene</text>
<text x="1103.40" y="952.7" font-size="28.00" fill="#9a9a9a" font-weight="normal" textLength="82.93" lengthAdjust="spacingAndGlyphs" >Augite</text>
<text x="1101.93" y="1204.3" font-size="28.00" fill="#9a9a9a" font-weight="normal" textLength="123.30" lengthAdjust="spacingAndGlyphs" >Pigeonite</text>
<text x="1101.98" y="1380.0" font-size="28.00" fill="#9a9a9a" font-weight="normal" textLength="194.54" lengthAdjust="spacingAndGlyphs" >Orthopyroxene</text>
<path d="M1258.0 976.0 C1259.3 981.7 1263.2 999.3 1266.0 1010.0 C1268.8 1020.7 1271.0 1027.3 1275.0 1040.0 C1279.0 1052.7 1284.8 1071.7 1290.0 1086.0 C1295.2 1100.3 1300.6 1113.7 1306.0 1126.0 C1311.4 1138.3 1316.9 1149.3 1322.6 1160.0 C1328.3 1170.7 1332.5 1179.1 1340.0 1190.0 C1347.5 1200.9 1358.3 1214.8 1367.5 1225.5 C1376.7 1236.2 1381.2 1242.8 1395.0 1254.5 C1408.8 1266.2 1431.7 1283.7 1450.0 1295.5 C1468.3 1307.3 1486.7 1316.8 1505.0 1325.5 C1523.3 1334.2 1541.7 1341.2 1560.0 1347.5 C1578.3 1353.8 1592.1 1359.0 1615.0 1363.2 C1637.9 1367.4 1670.7 1370.6 1697.4 1372.5 C1724.1 1374.4 1762.1 1374.3 1775.0 1374.7" fill="none" stroke="#c8c8c8" stroke-width="5.5"/>
<polygon points="1249,936.4 1239.3,988 1257.5,974.5 1279.2,979.5" fill="#c8c8c8"/>
<circle cx="1278.0" cy="925.2" r="10" fill="#fbb03b" stroke="#000" stroke-width="1.5"/>
<circle cx="1324.5" cy="964.9" r="10" fill="#fbb03b" stroke="#000" stroke-width="1.5"/>
<circle cx="1317.4" cy="1003.4" r="10" fill="#fbb03b" stroke="#000" stroke-width="1.5"/>
<circle cx="1244.2" cy="1060.6" r="10" fill="#fbb03b" stroke="#000" stroke-width="1.5"/>
<circle cx="1309.9" cy="1065.9" r="10" fill="#fbb03b" stroke="#000" stroke-width="1.5"/>
<circle cx="1376.5" cy="1140.3" r="10" fill="#fbb03b" stroke="#000" stroke-width="1.5"/>
<circle cx="1288.6" cy="1151.6" r="10" fill="#fbb03b" stroke="#000" stroke-width="1.5"/>
<circle cx="1308.7" cy="1180.5" r="10" fill="#fbb03b" stroke="#000" stroke-width="1.5"/>
<circle cx="1283.9" cy="1215.0" r="10" fill="#fbb03b" stroke="#000" stroke-width="1.5"/>
<circle cx="1292.7" cy="1218.0" r="10" fill="#fbb03b" stroke="#000" stroke-width="1.5"/>
<circle cx="1293.9" cy="1225.6" r="10" fill="#fbb03b" stroke="#000" stroke-width="1.5"/>
<circle cx="1286.4" cy="1228.8" r="10" fill="#fbb03b" stroke="#000" stroke-width="1.5"/>
<circle cx="1288.2" cy="1232.6" r="10" fill="#fbb03b" stroke="#000" stroke-width="1.5"/>
<circle cx="1272.7" cy="1233.1" r="10" fill="#fbb03b" stroke="#000" stroke-width="1.5"/>
<circle cx="1276.9" cy="1230.8" r="10" fill="#fbb03b" stroke="#000" stroke-width="1.5"/>
<circle cx="1272.7" cy="1244.6" r="10" fill="#fbb03b" stroke="#000" stroke-width="1.5"/>
<circle cx="1285.2" cy="1246.3" r="10" fill="#fbb03b" stroke="#000" stroke-width="1.5"/>
<circle cx="1288.9" cy="1247.6" r="10" fill="#fbb03b" stroke="#000" stroke-width="1.5"/>
<circle cx="1292.2" cy="1254.3" r="10" fill="#fbb03b" stroke="#000" stroke-width="1.5"/>
<circle cx="1278.9" cy="1246.3" r="10" fill="#fbb03b" stroke="#000" stroke-width="1.5"/>
<circle cx="1276.9" cy="1230.8" r="10" fill="#fbb03b" stroke="#000" stroke-width="1.5"/>
<circle cx="1394.9" cy="1231.2" r="10" fill="#fbb03b" stroke="#000" stroke-width="1.5"/>
<circle cx="1372.7" cy="1241.3" r="10" fill="#fbb03b" stroke="#000" stroke-width="1.5"/>
<circle cx="1380.2" cy="1241.3" r="10" fill="#fbb03b" stroke="#000" stroke-width="1.5"/>
<circle cx="1384.0" cy="1247.6" r="10" fill="#fbb03b" stroke="#000" stroke-width="1.5"/>
<circle cx="1371.5" cy="1247.6" r="10" fill="#fbb03b" stroke="#000" stroke-width="1.5"/>
<circle cx="1377.7" cy="1244.6" r="10" fill="#fbb03b" stroke="#000" stroke-width="1.5"/>
<circle cx="1378.3" cy="1261.4" r="10" fill="#fbb03b" stroke="#000" stroke-width="1.5"/>
<circle cx="1365.0" cy="1261.0" r="10" fill="#fbb03b" stroke="#000" stroke-width="1.5"/>
<circle cx="1360.0" cy="1277.1" r="10" fill="#fbb03b" stroke="#000" stroke-width="1.5"/>
<circle cx="1372.0" cy="1275.4" r="10" fill="#fbb03b" stroke="#000" stroke-width="1.5"/>
<circle cx="1363.3" cy="1277.4" r="10" fill="#fbb03b" stroke="#000" stroke-width="1.5"/>
<circle cx="1379.8" cy="1284.2" r="10" fill="#fbb03b" stroke="#000" stroke-width="1.5"/>
<circle cx="1376.0" cy="1282.6" r="10" fill="#fbb03b" stroke="#000" stroke-width="1.5"/>
<circle cx="1363.0" cy="1289.0" r="10" fill="#fbb03b" stroke="#000" stroke-width="1.5"/>
<circle cx="1377.2" cy="1292.2" r="10" fill="#fbb03b" stroke="#000" stroke-width="1.5"/>
<circle cx="1420.5" cy="1213.6" r="10" fill="#fbb03b" stroke="#000" stroke-width="1.5"/>
<circle cx="1418.3" cy="1244.1" r="10" fill="#fbb03b" stroke="#000" stroke-width="1.5"/>
<circle cx="1428.0" cy="1249.6" r="10" fill="#fbb03b" stroke="#000" stroke-width="1.5"/>
<circle cx="1425.2" cy="1256.4" r="10" fill="#fbb03b" stroke="#000" stroke-width="1.5"/>
<circle cx="1410.1" cy="1255.1" r="10" fill="#fbb03b" stroke="#000" stroke-width="1.5"/>
<circle cx="1440.3" cy="1263.3" r="10" fill="#fbb03b" stroke="#000" stroke-width="1.5"/>
<circle cx="1426.6" cy="1268.8" r="10" fill="#fbb03b" stroke="#000" stroke-width="1.5"/>
<circle cx="1438.4" cy="1267.4" r="10" fill="#fbb03b" stroke="#000" stroke-width="1.5"/>
<circle cx="1428.5" cy="1288.1" r="10" fill="#fbb03b" stroke="#000" stroke-width="1.5"/>
<circle cx="1467.0" cy="1269.6" r="10" fill="#fbb03b" stroke="#000" stroke-width="1.5"/>
<circle cx="1542.9" cy="1290.3" r="10" fill="#fbb03b" stroke="#000" stroke-width="1.5"/>
<circle cx="1400.3" cy="1322.0" r="10" fill="#fbb03b" stroke="#000" stroke-width="1.5"/>
<circle cx="1410.1" cy="1323.8" r="10" fill="#fbb03b" stroke="#000" stroke-width="1.5"/>
<circle cx="1410.1" cy="1317.5" r="10" fill="#fbb03b" stroke="#000" stroke-width="1.5"/>
<circle cx="1426.6" cy="1332.5" r="10" fill="#fbb03b" stroke="#000" stroke-width="1.5"/>
<circle cx="1457.7" cy="1334.0" r="10" fill="#fbb03b" stroke="#000" stroke-width="1.5"/>
<circle cx="1480.7" cy="1341.7" r="10" fill="#fbb03b" stroke="#000" stroke-width="1.5"/>
<circle cx="1480.7" cy="1340.3" r="10" fill="#fbb03b" stroke="#000" stroke-width="1.5"/>
<circle cx="1555.8" cy="1335.3" r="10" fill="#fbb03b" stroke="#000" stroke-width="1.5"/>
<circle cx="1577.8" cy="1355.4" r="10" fill="#fbb03b" stroke="#000" stroke-width="1.5"/>
<circle cx="1604.4" cy="1349.1" r="10" fill="#fbb03b" stroke="#000" stroke-width="1.5"/>
<circle cx="1602.5" cy="1354.9" r="10" fill="#fbb03b" stroke="#000" stroke-width="1.5"/>
<circle cx="1627.3" cy="1372.7" r="10" fill="#fbb03b" stroke="#000" stroke-width="1.5"/>
<circle cx="1653.4" cy="1334.0" r="10" fill="#fbb03b" stroke="#000" stroke-width="1.5"/>
<circle cx="1647.9" cy="1356.0" r="10" fill="#fbb03b" stroke="#000" stroke-width="1.5"/>
<circle cx="1656.1" cy="1355.4" r="10" fill="#fbb03b" stroke="#000" stroke-width="1.5"/>
<circle cx="1660.2" cy="1351.3" r="10" fill="#fbb03b" stroke="#000" stroke-width="1.5"/>
<circle cx="1669.9" cy="1355.4" r="10" fill="#fbb03b" stroke="#000" stroke-width="1.5"/>
<circle cx="1675.4" cy="1358.2" r="10" fill="#fbb03b" stroke="#000" stroke-width="1.5"/>
<circle cx="1671.2" cy="1356.0" r="10" fill="#fbb03b" stroke="#000" stroke-width="1.5"/>
<circle cx="1680.3" cy="1369.7" r="10" fill="#fbb03b" stroke="#000" stroke-width="1.5"/>
<circle cx="1669.9" cy="1370.5" r="10" fill="#fbb03b" stroke="#000" stroke-width="1.5"/>
<circle cx="1774.3" cy="1374.1" r="10" fill="#fbb03b" stroke="#000" stroke-width="1.5"/>
<circle cx="1793.6" cy="1372.5" r="10" fill="#fbb03b" stroke="#000" stroke-width="1.5"/>
<circle cx="1804.6" cy="1374.7" r="10" fill="#fbb03b" stroke="#000" stroke-width="1.5"/>
<circle cx="1783.1" cy="1374.7" r="10" fill="#fbb03b" stroke="#000" stroke-width="1.5"/>
<text x="1397.63" y="1157.5" font-size="28.00" fill="#000" font-weight="normal" textLength="118.93" lengthAdjust="spacingAndGlyphs" >Gabbroic</text>
<text x="1419.96" y="1188.6" font-size="28.00" fill="#000" font-weight="normal" textLength="74.84" lengthAdjust="spacingAndGlyphs" >norite</text>
<text x="1602.93" y="1282.6" font-size="28.00" fill="#000" font-weight="normal" textLength="112.78" lengthAdjust="spacingAndGlyphs" >Cpx-free</text>
<text x="1621.46" y="1314.2" font-size="28.00" fill="#000" font-weight="normal" textLength="74.84" lengthAdjust="spacingAndGlyphs" >norite</text>
<text x="1718.06" y="1351.3" font-size="28.00" fill="#000" font-weight="normal" textLength="131.13" lengthAdjust="spacingAndGlyphs" >Xenocryst</text>
<clipPath id="clipBowl"><path d="M1447.8 918.7 A187.8 102 0 0 0 1823.4 918.7 Z"/></clipPath>
<g clip-path="url(#clipBowl)">
<rect x="1440" y="900" width="400" height="130" fill="#93d8a1"/>
<path d="M1440 900H1840V957.7H1807.9A171.4 17 0 0 1 1465.1 957.7H1440Z" fill="#fdd49b"/>
<ellipse cx="1636.5" cy="957.7" rx="171.4" ry="17" fill="#c9ae5e"/>
<path d="M1465.1 957.7 A171.4 17 0 0 1 1807.9 957.7" fill="none" stroke="#a98c55" stroke-width="1.2" stroke-dasharray="4 3"/>
<path d="M1465.1 957.7 A171.4 17 0 0 0 1807.9 957.7" fill="none" stroke="#000" stroke-width="1.4" stroke-dasharray="4.5 3"/>
</g>
<path d="M1447.8 918.7 A187.8 102 0 0 0 1823.4 918.7" fill="none" stroke="#000" stroke-width="1.6"/>
<ellipse cx="1635.6" cy="918.2" rx="187.8" ry="20.3" fill="#fac68a" stroke="#000" stroke-width="1.6"/>
<path id="arcTop" d="M1440.5 898.4 A1286.0 1286.0 0 0 1 1840.5 898.4" fill="none"/><text font-size="25.00" fill="#000" text-anchor="middle" letter-spacing="1.011"><textPath href="#arcTop" startOffset="50%">SPA impact melt sheet</textPath></text>
<path id="arcMid" d="M1442.8 949.1 A1600.0 1600.0 0 0 0 1842.8 949.1" fill="none"/><text font-size="22.00" fill="#000" text-anchor="middle" letter-spacing="0.517"><textPath href="#arcMid" startOffset="50%">Chang’e-6 noritic clasts</textPath></text>
<path id="arcLow" d="M1439.2 985.6 A1200.0 1200.0 0 0 0 1839.2 985.6" fill="none"/><text font-size="22.00" fill="#000" text-anchor="middle" letter-spacing="0.512"><textPath href="#arcLow" startOffset="50%">Deep materials?</textPath></text></g>
</svg></body></html>
